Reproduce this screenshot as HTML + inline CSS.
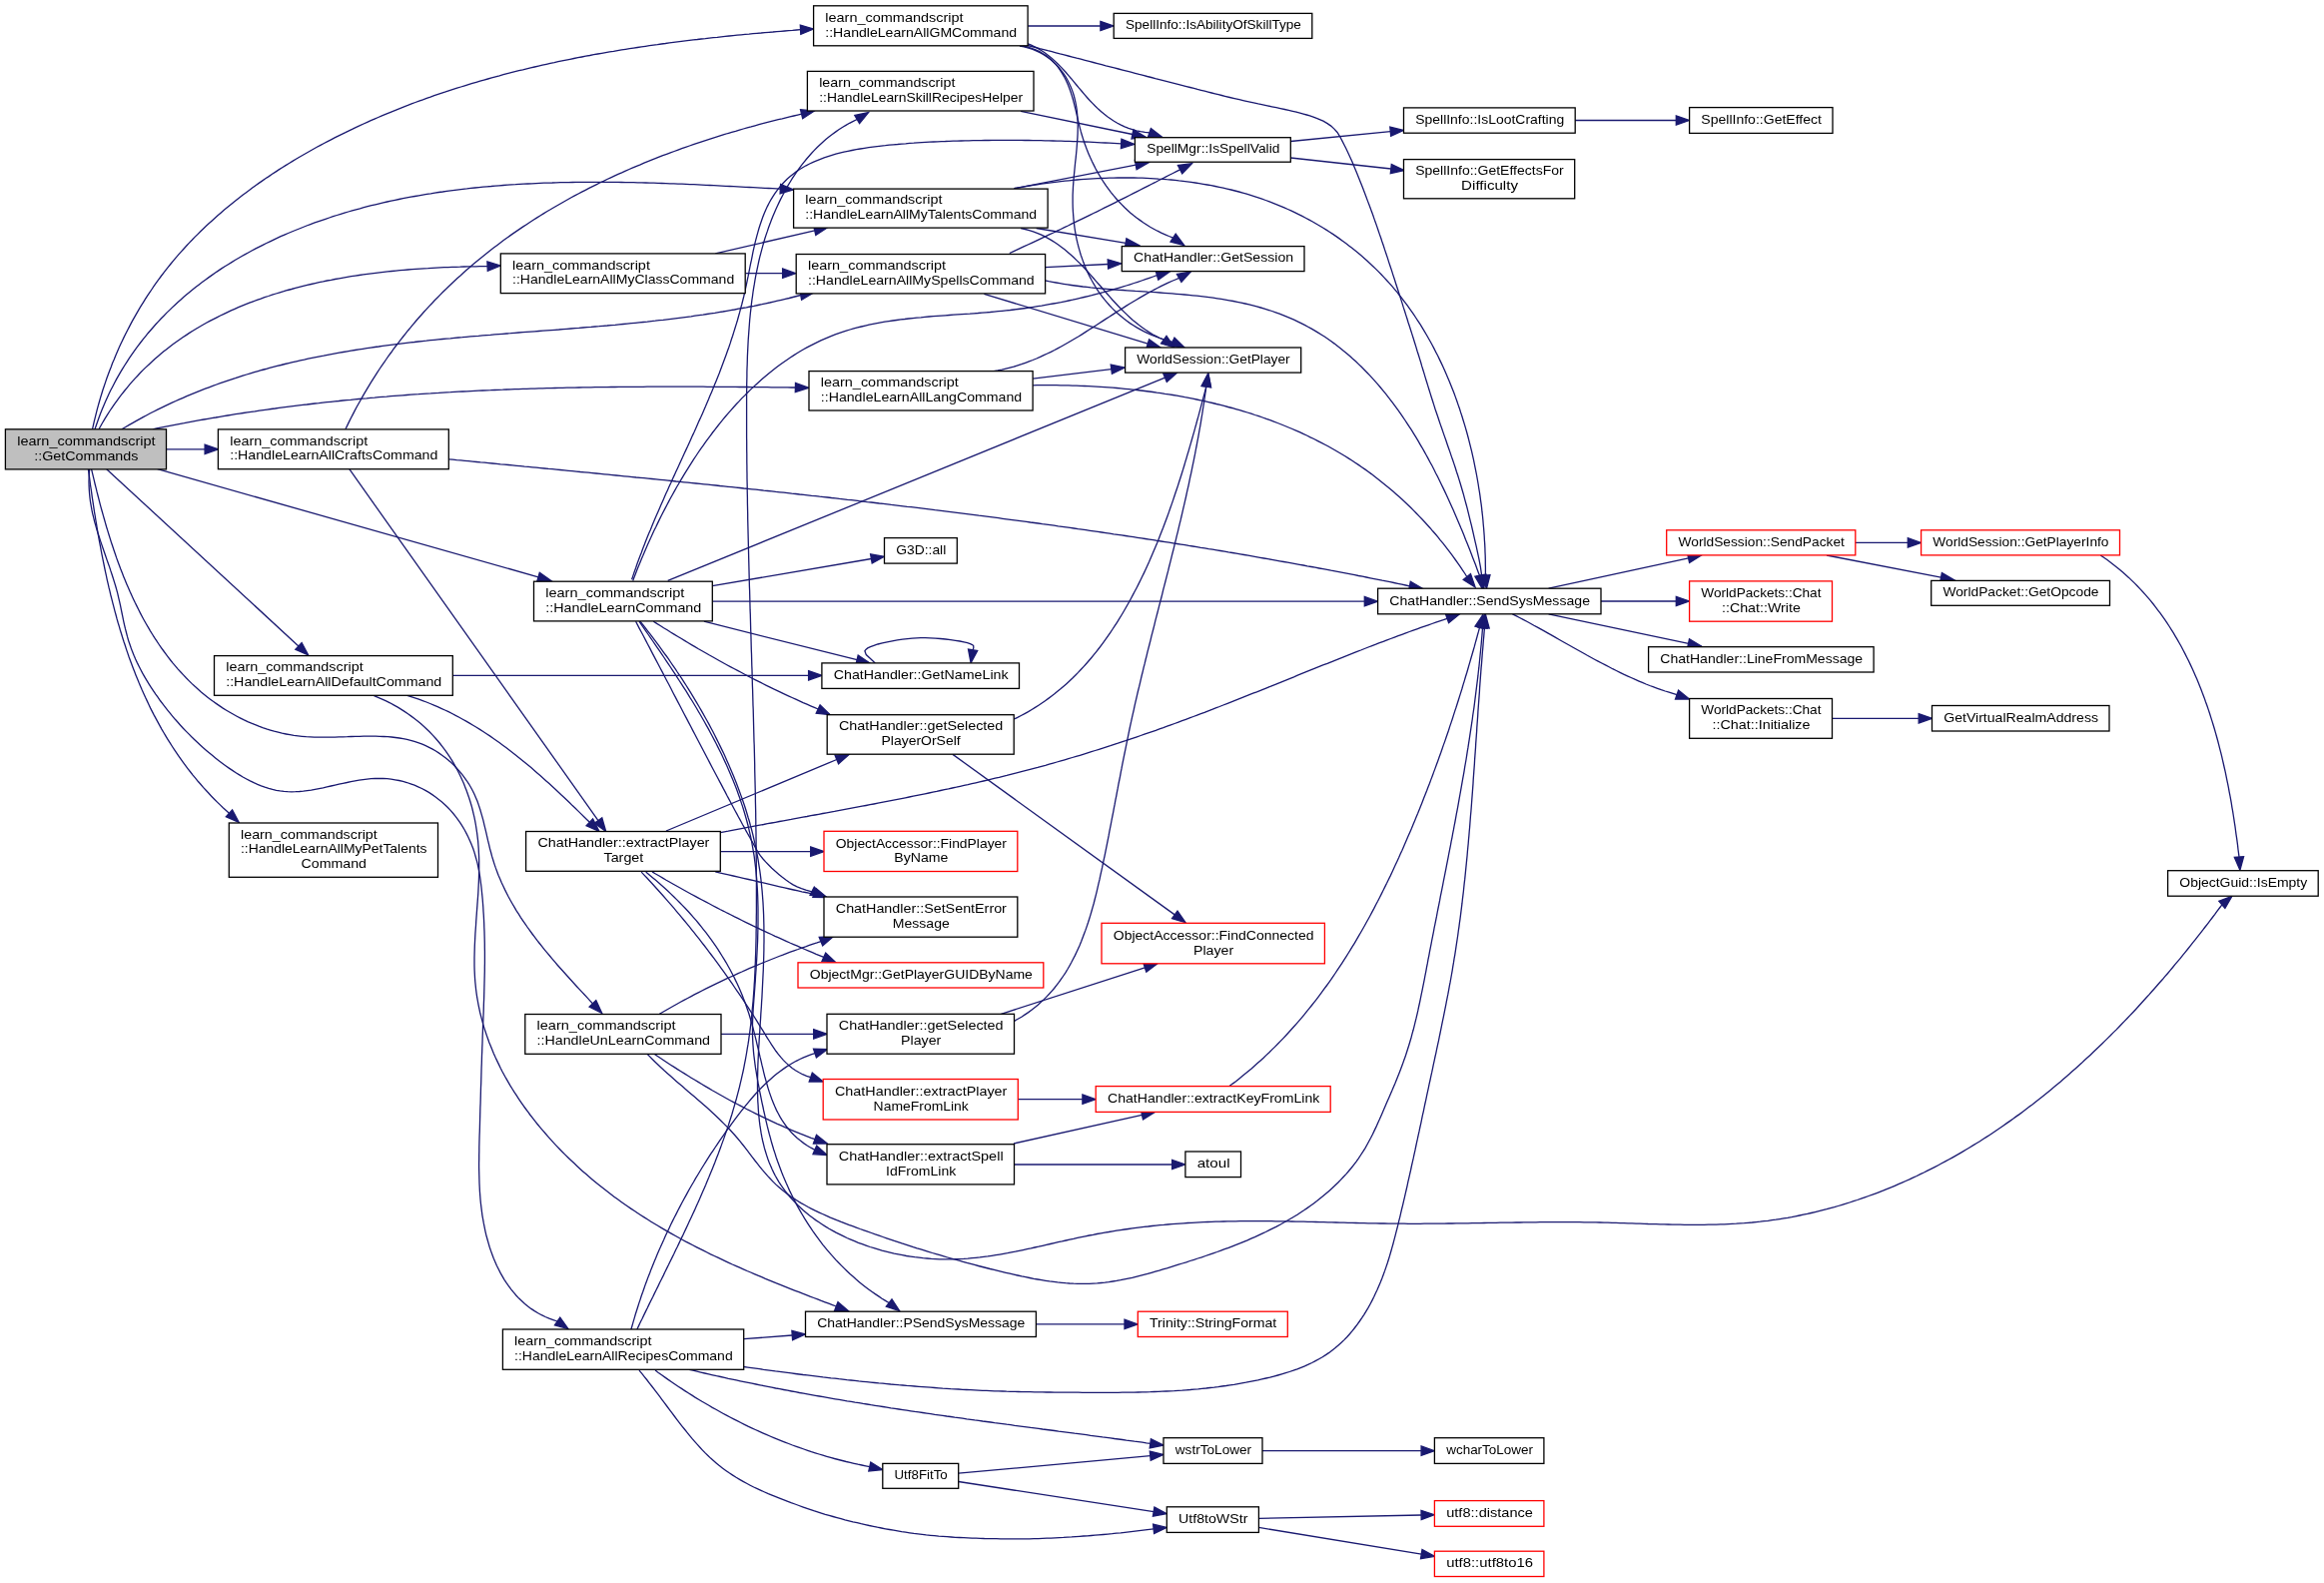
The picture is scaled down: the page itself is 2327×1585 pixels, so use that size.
<!DOCTYPE html><html><head><meta charset="utf-8"><style>html,body{margin:0;padding:0;background:#fff;width:2327px;height:1585px;overflow:hidden}svg{display:block;will-change:transform}text{font-family:"Liberation Sans",sans-serif;font-size:13.3px;fill:#000}</style></head><body>
<svg width="2327" height="1585" viewBox="0 0 2327 1585">
<rect width="2327" height="1585" fill="#fff"/>
<g fill="none" stroke="#191970" stroke-width="1.3">
</g><g fill="#191970" stroke="#191970" stroke-width="1.3">
<path fill="none" d="M92.5,429.8 L93.4,425.8 L94.3,421.8 L95.3,417.8 L96.3,413.8 L97.3,409.9 L98.4,405.9 L99.5,402 L100.6,398.1 L101.8,394.2 L103,390.3 L104.3,386.5 L105.6,382.6 L106.9,378.8 L108.3,375 L109.7,371.2 L111.2,367.4 L112.6,363.6 L114.2,359.9 L115.7,356.2 L117.3,352.5 L118.9,348.8 L120.6,345.1 L122.3,341.5 L124,337.9 L125.8,334.3 L127.6,330.7 L129.5,327.1 L131.3,323.6 L133.2,320.1 L135.2,316.6 L137.2,313.1 L139.2,309.6 L141.3,306.2 L143.4,302.8 L145.5,299.4 L147.6,296.1 L149.8,292.8 L152.1,289.5 L154.3,286.2 L156.6,282.9 L159,279.7 L161.3,276.5 L163.7,273.3 L166.2,270.2 L168.6,267.1 L171.1,264 L173.7,260.9 L176.2,257.9 L178.8,254.9 L181.5,251.9 L184.1,249 L186.8,246 L189.5,243.1 L192.3,240.3 L195,237.4 L197.9,234.6 L200.7,231.8 L203.6,229 L206.4,226.3 L209.4,223.6 L212.3,220.9 L215.3,218.2 L218.3,215.6 L221.3,212.9 L224.3,210.3 L227.4,207.8 L230.5,205.2 L233.6,202.7 L236.7,200.2 L239.9,197.7 L243,195.3 L246.2,192.9 L249.5,190.5 L252.7,188.1 L255.9,185.7 L259.2,183.4 L262.5,181.1 L265.8,178.8 L269.2,176.6 L272.5,174.3 L275.9,172.1 L279.2,169.9 L282.6,167.8 L286,165.6 L289.5,163.5 L292.9,161.4 L296.4,159.3 L299.8,157.3 L303.3,155.3 L306.8,153.2 L310.3,151.3 L313.8,149.3 L317.3,147.3 L320.9,145.4 L324.4,143.5 L328,141.6 L331.5,139.8 L335.1,137.9 L338.7,136.1 L342.3,134.3 L345.9,132.6 L349.5,130.8 L353.1,129.1 L356.7,127.3 L360.4,125.7 L364,124 L367.7,122.3 L371.3,120.7 L375,119.1 L378.7,117.5 L382.4,115.9 L386,114.3 L389.8,112.8 L393.5,111.3 L397.2,109.8 L400.9,108.3 L404.6,106.8 L408.4,105.4 L412.1,103.9 L415.9,102.5 L419.6,101.1 L423.4,99.8 L427.2,98.4 L431,97.1 L434.8,95.7 L438.6,94.4 L442.4,93.1 L446.2,91.9 L450,90.6 L453.8,89.4 L457.6,88.2 L461.5,87 L465.3,85.8 L469.1,84.6 L473,83.4 L476.9,82.3 L480.7,81.2 L484.6,80.1 L488.5,79 L492.3,77.9 L496.2,76.8 L500.1,75.8 L504,74.7 L507.9,73.7 L511.8,72.7 L515.7,71.7 L519.6,70.7 L523.5,69.8 L527.4,68.8 L531.3,67.9 L535.3,67 L539.2,66.1 L543.1,65.2 L547.1,64.3 L551,63.4 L555,62.6 L558.9,61.7 L562.8,60.9 L566.8,60.1 L570.8,59.3 L574.7,58.5 L578.7,57.7 L582.6,57 L586.6,56.2 L590.6,55.5 L594.5,54.7 L598.5,54 L602.5,53.3 L606.5,52.6 L610.4,51.9 L614.4,51.3 L618.4,50.6 L622.4,49.9 L626.4,49.3 L630.4,48.7 L634.3,48.1 L638.3,47.5 L642.3,46.9 L646.3,46.3 L650.3,45.7 L654.3,45.1 L658.3,44.6 L662.3,44 L666.3,43.5 L670.3,42.9 L674.3,42.4 L678.3,41.9 L682.3,41.4 L686.2,40.9 L690.2,40.4 L694.2,39.9 L698.2,39.5 L702.2,39 L706.2,38.6 L710.2,38.1 L714.2,37.7 L718.2,37.3 L722.2,36.8 L726.2,36.4 L730.1,36 L734.1,35.6 L738.1,35.2 L742.1,34.8 L746.1,34.4 L750,34.1 L754,33.7 L758,33.3 L762,33 L765.9,32.6 L769.9,32.3 L773.9,32 L777.8,31.6 L781.8,31.3 L785.7,31 L789.7,30.7 L793.6,30.4 L797.6,30 L801.5,29.7"/>
<polygon points="814.8,29 801.8,34.4 801.3,25.1"/>
<path fill="none" d="M95,429.8 L96.4,425.7 L97.8,421.7 L99.2,417.7 L100.7,413.7 L102.3,409.8 L103.9,405.9 L105.6,402.1 L107.3,398.3 L109,394.6 L110.8,390.8 L112.7,387.2 L114.6,383.5 L116.5,379.9 L118.5,376.4 L120.5,372.9 L122.6,369.4 L124.7,366 L126.9,362.6 L129.1,359.2 L131.3,355.9 L133.6,352.6 L135.9,349.4 L138.3,346.2 L140.7,343 L143.1,339.9 L145.6,336.8 L148.1,333.7 L150.7,330.7 L153.3,327.7 L155.9,324.8 L158.6,321.9 L161.2,319 L164,316.2 L166.7,313.4 L169.6,310.6 L172.4,307.9 L175.3,305.2 L178.2,302.5 L181.1,299.9 L184,297.3 L187,294.8 L190.1,292.2 L193.1,289.8 L196.2,287.3 L199.3,284.9 L202.4,282.5 L205.6,280.2 L208.8,277.9 L212,275.6 L215.3,273.3 L218.5,271.1 L221.8,268.9 L225.1,266.8 L228.5,264.7 L231.9,262.6 L235.2,260.5 L238.7,258.5 L242.1,256.5 L245.5,254.6 L249,252.7 L252.5,250.8 L256,248.9 L259.6,247.1 L263.1,245.3 L266.7,243.5 L270.3,241.8 L273.9,240.1 L277.5,238.4 L281.1,236.7 L284.8,235.1 L288.5,233.5 L292.1,232 L295.8,230.5 L299.6,229 L303.3,227.5 L307,226 L310.8,224.6 L314.5,223.2 L318.3,221.9 L322.1,220.6 L325.9,219.3 L329.7,218 L333.5,216.7 L337.3,215.5 L341.1,214.3 L344.9,213.2 L348.8,212 L352.6,210.9 L356.5,209.8 L360.4,208.8 L364.3,207.7 L368.1,206.7 L372,205.7 L375.9,204.8 L379.9,203.8 L383.8,202.9 L387.7,202 L391.6,201.2 L395.6,200.3 L399.5,199.5 L403.5,198.7 L407.4,197.9 L411.4,197.2 L415.4,196.5 L419.3,195.8 L423.3,195.1 L427.3,194.4 L431.3,193.8 L435.3,193.1 L439.3,192.5 L443.3,192 L447.3,191.4 L451.3,190.9 L455.4,190.3 L459.4,189.8 L463.4,189.3 L467.5,188.9 L471.5,188.4 L475.6,188 L479.6,187.6 L483.6,187.2 L487.7,186.8 L491.8,186.5 L495.8,186.1 L499.9,185.8 L503.9,185.5 L508,185.2 L512.1,184.9 L516.2,184.7 L520.2,184.4 L524.3,184.2 L528.4,184 L532.5,183.8 L536.5,183.6 L540.6,183.4 L544.7,183.2 L548.8,183.1 L552.9,183 L556.9,182.8 L561,182.7 L565.1,182.6 L569.2,182.6 L573.3,182.5 L577.4,182.4 L581.4,182.4 L585.5,182.3 L589.6,182.3 L593.7,182.3 L597.8,182.3 L601.8,182.3 L605.9,182.3 L610,182.4 L614.1,182.4 L618.1,182.4 L622.2,182.5 L626.3,182.6 L630.3,182.6 L634.4,182.7 L638.5,182.8 L642.5,182.9 L646.6,183 L650.6,183.1 L654.7,183.2 L658.7,183.4 L662.7,183.5 L666.8,183.6 L670.8,183.8 L674.8,183.9 L678.8,184.1 L682.9,184.2 L686.9,184.4 L690.9,184.6 L694.9,184.7 L698.9,184.9 L702.9,185.1 L706.9,185.3 L710.8,185.5 L714.8,185.7 L718.8,185.9 L722.7,186.1 L726.7,186.3 L730.6,186.5 L734.6,186.7 L738.5,186.9 L742.5,187.1 L746.4,187.3 L750.3,187.5 L754.2,187.7 L758.1,187.9 L762,188.1 L765.9,188.3 L769.7,188.5 L773.6,188.7 L777.5,188.9 L781.3,189.1"/>
<polygon points="794.6,189.9 781.1,193.8 781.6,184.5"/>
<path fill="none" d="M99,429.8 L101.1,426 L103.2,422.3 L105.4,418.7 L107.6,415.1 L109.9,411.5 L112.2,408.1 L114.6,404.6 L117,401.3 L119.5,397.9 L122,394.7 L124.5,391.5 L127.1,388.3 L129.7,385.2 L132.3,382.1 L135,379.1 L137.8,376.2 L140.5,373.3 L143.3,370.4 L146.2,367.6 L149.1,364.9 L152,362.2 L154.9,359.5 L157.9,356.9 L161,354.3 L164,351.8 L167.1,349.4 L170.2,347 L173.4,344.6 L176.6,342.3 L179.8,340 L183,337.7 L186.3,335.6 L189.6,333.4 L193,331.3 L196.3,329.2 L199.7,327.2 L203.1,325.3 L206.6,323.3 L210.1,321.4 L213.6,319.6 L217.1,317.8 L220.6,316 L224.2,314.3 L227.8,312.6 L231.4,310.9 L235,309.3 L238.7,307.7 L242.4,306.2 L246.1,304.7 L249.8,303.2 L253.5,301.8 L257.3,300.4 L261.1,299.1 L264.9,297.7 L268.7,296.5 L272.5,295.2 L276.3,294 L280.2,292.8 L284.1,291.7 L288,290.5 L291.9,289.5 L295.8,288.4 L299.7,287.4 L303.6,286.4 L307.6,285.4 L311.6,284.5 L315.5,283.6 L319.5,282.7 L323.5,281.9 L327.5,281 L331.5,280.3 L335.5,279.5 L339.5,278.8 L343.6,278.1 L347.6,277.4 L351.6,276.7 L355.7,276.1 L359.7,275.5 L363.8,274.9 L367.8,274.3 L371.9,273.8 L376,273.3 L380,272.8 L384.1,272.3 L388.1,271.9 L392.2,271.5 L396.3,271.1 L400.3,270.7 L404.4,270.3 L408.4,270 L412.5,269.7 L416.5,269.4 L420.6,269.1 L424.6,268.8 L428.6,268.6 L432.7,268.3 L436.7,268.1 L440.7,267.9 L444.7,267.7 L448.7,267.6 L452.7,267.4 L456.7,267.3 L460.6,267.2 L464.6,267 L468.6,266.9 L472.5,266.9 L476.4,266.8 L480.3,266.7 L484.2,266.7 L488.1,266.7"/>
<polygon points="501.4,266 488.3,271.3 487.9,262"/>
<path fill="none" d="M121.9,429.8 L125.4,427.7 L129,425.6 L132.6,423.6 L136.1,421.6 L139.7,419.6 L143.3,417.6 L146.9,415.7 L150.5,413.8 L154.1,412 L157.7,410.2 L161.4,408.4 L165,406.6 L168.7,404.9 L172.3,403.2 L176,401.5 L179.6,399.9 L183.3,398.3 L187,396.7 L190.7,395.1 L194.4,393.6 L198.1,392.1 L201.8,390.6 L205.5,389.2 L209.3,387.8 L213,386.4 L216.8,385 L220.5,383.7 L224.3,382.4 L228,381.1 L231.8,379.8 L235.6,378.6 L239.4,377.3 L243.1,376.2 L246.9,375 L250.7,373.8 L254.6,372.7 L258.4,371.6 L262.2,370.5 L266,369.5 L269.8,368.4 L273.7,367.4 L277.5,366.4 L281.4,365.5 L285.2,364.5 L289.1,363.6 L293,362.7 L296.8,361.8 L300.7,360.9 L304.6,360.1 L308.5,359.2 L312.4,358.4 L316.3,357.6 L320.2,356.8 L324.1,356.1 L328,355.3 L331.9,354.6 L335.8,353.9 L339.7,353.2 L343.6,352.5 L347.6,351.8 L351.5,351.2 L355.5,350.5 L359.4,349.9 L363.3,349.3 L367.3,348.7 L371.2,348.1 L375.2,347.5 L379.2,347 L383.1,346.4 L387.1,345.9 L391.1,345.4 L395,344.9 L399,344.4 L403,343.9 L407,343.4 L411,342.9 L414.9,342.5 L418.9,342 L422.9,341.6 L426.9,341.2 L430.9,340.7 L434.9,340.3 L438.9,339.9 L442.9,339.5 L446.9,339.1 L451,338.8 L455,338.4 L459,338 L463,337.7 L467,337.3 L471,336.9 L475,336.6 L479.1,336.3 L483.1,335.9 L487.1,335.6 L491.1,335.3 L495.2,334.9 L499.2,334.6 L503.2,334.3 L507.2,334 L511.3,333.7 L515.3,333.3 L519.3,333 L523.4,332.7 L527.4,332.4 L531.4,332.1 L535.4,331.8 L539.5,331.5 L543.5,331.2 L547.5,330.9 L551.6,330.6 L555.6,330.3 L559.6,330 L563.7,329.6 L567.7,329.3 L571.7,329 L575.8,328.7 L579.8,328.4 L583.8,328 L587.8,327.7 L591.9,327.4 L595.9,327 L599.9,326.7 L603.9,326.3 L608,326 L612,325.6 L616,325.3 L620,324.9 L624,324.5 L628,324.1 L632.1,323.7 L636.1,323.3 L640.1,322.9 L644.1,322.5 L648.1,322.1 L652.1,321.6 L656.1,321.2 L660.1,320.7 L664.1,320.3 L668.1,319.8 L672.1,319.3 L676.1,318.8 L680,318.3 L684,317.8 L688,317.3 L692,316.8 L695.9,316.2 L699.9,315.6 L703.9,315.1 L707.8,314.5 L711.8,313.9 L715.8,313.3 L719.7,312.6 L723.7,312 L727.6,311.3 L731.5,310.6 L735.5,310 L739.4,309.2 L743.3,308.5 L747.3,307.8 L751.2,307 L755.1,306.3 L759,305.5 L762.9,304.7 L766.8,303.8 L770.7,303 L774.6,302.1 L778.5,301.2 L782.4,300.3 L786.3,299.4 L790.2,298.5 L794,297.5 L797.9,296.5 L801.7,295.5"/>
<polygon points="814.8,293 802.6,300.1 800.9,291"/>
<path fill="none" d="M152.9,429.8 L156.8,429 L160.8,428.2 L164.7,427.4 L168.6,426.6 L172.6,425.8 L176.5,425.1 L180.5,424.3 L184.4,423.6 L188.3,422.8 L192.3,422.1 L196.2,421.4 L200.2,420.7 L204.1,420 L208.1,419.3 L212,418.6 L216,418 L220,417.3 L223.9,416.6 L227.9,416 L231.8,415.4 L235.8,414.7 L239.8,414.1 L243.7,413.5 L247.7,412.9 L251.6,412.3 L255.6,411.8 L259.6,411.2 L263.6,410.6 L267.5,410.1 L271.5,409.5 L275.5,409 L279.4,408.4 L283.4,407.9 L287.4,407.4 L291.4,406.9 L295.4,406.4 L299.3,405.9 L303.3,405.4 L307.3,405 L311.3,404.5 L315.3,404 L319.2,403.6 L323.2,403.1 L327.2,402.7 L331.2,402.3 L335.2,401.9 L339.2,401.5 L343.2,401 L347.2,400.6 L351.2,400.3 L355.2,399.9 L359.1,399.5 L363.1,399.1 L367.1,398.8 L371.1,398.4 L375.1,398.1 L379.1,397.7 L383.1,397.4 L387.1,397.1 L391.1,396.7 L395.1,396.4 L399.1,396.1 L403.1,395.8 L407.1,395.5 L411.1,395.2 L415.1,394.9 L419.1,394.7 L423.2,394.4 L427.2,394.1 L431.2,393.9 L435.2,393.6 L439.2,393.4 L443.2,393.1 L447.2,392.9 L451.2,392.7 L455.2,392.4 L459.2,392.2 L463.2,392 L467.3,391.8 L471.3,391.6 L475.3,391.4 L479.3,391.2 L483.3,391 L487.3,390.8 L491.3,390.7 L495.3,390.5 L499.4,390.3 L503.4,390.2 L507.4,390 L511.4,389.9 L515.4,389.7 L519.4,389.6 L523.5,389.4 L527.5,389.3 L531.5,389.2 L535.5,389.1 L539.5,388.9 L543.5,388.8 L547.6,388.7 L551.6,388.6 L555.6,388.5 L559.6,388.4 L563.6,388.3 L567.7,388.2 L571.7,388.2 L575.7,388.1 L579.7,388 L583.7,387.9 L587.7,387.9 L591.8,387.8 L595.8,387.7 L599.8,387.7 L603.8,387.6 L607.8,387.6 L611.9,387.5 L615.9,387.5 L619.9,387.4 L623.9,387.4 L627.9,387.4 L631.9,387.3 L636,387.3 L640,387.3 L644,387.3 L648,387.2 L652,387.2 L656.1,387.2 L660.1,387.2 L664.1,387.2 L668.1,387.2 L672.1,387.2 L676.1,387.2 L680.2,387.2 L684.2,387.2 L688.2,387.2 L692.2,387.2 L696.2,387.2 L700.2,387.2 L704.2,387.2 L708.2,387.3 L712.3,387.3 L716.3,387.3 L720.3,387.3 L724.3,387.3 L728.3,387.4 L732.3,387.4 L736.3,387.4 L740.3,387.5 L744.3,387.5 L748.4,387.5 L752.4,387.6 L756.4,387.6 L760.4,387.6 L764.4,387.7 L768.4,387.7 L772.4,387.8 L776.4,387.8 L780.4,387.8 L784.4,387.9 L788.4,387.9 L792.4,388 L796.4,388"/>
<polygon points="809.7,388.3 796.3,392.7 796.5,383.4"/>
<path fill="none" d="M166.5,449.8 L205.1,449.8"/>
<polygon points="218.4,449.8 205.1,454.5 205.1,445.1"/>
<path fill="none" d="M157.7,469.7 L539,577.8"/>
<polygon points="551.8,581.4 537.7,582.3 540.3,573.3"/>
<path fill="none" d="M106.7,469.7 L298.9,646.9"/>
<polygon points="308.7,655.9 295.8,650.3 302.1,643.5"/>
<path fill="none" d="M88.4,469.8 L88.9,473.7 L89.5,477.6 L90,481.5 L90.5,485.5 L91.1,489.4 L91.7,493.3 L92.2,497.3 L92.8,501.2 L93.4,505.2 L94,509.1 L94.6,513.1 L95.3,517 L95.9,521 L96.6,524.9 L97.2,528.9 L97.9,532.9 L98.6,536.8 L99.3,540.8 L100,544.7 L100.8,548.7 L101.5,552.7 L102.3,556.6 L103.1,560.6 L103.9,564.5 L104.7,568.5 L105.5,572.4 L106.4,576.4 L107.2,580.3 L108.1,584.2 L109,588.2 L110,592.1 L110.9,596 L111.9,599.9 L112.9,603.8 L113.9,607.7 L114.9,611.6 L116,615.5 L117,619.4 L118.1,623.3 L119.3,627.1 L120.4,631 L121.6,634.8 L122.8,638.7 L124,642.5 L125.3,646.3 L126.5,650.1 L127.8,653.9 L129.1,657.7 L130.5,661.4 L131.9,665.2 L133.3,668.9 L134.7,672.6 L136.2,676.4 L137.7,680 L139.2,683.7 L140.8,687.4 L142.3,691 L144,694.7 L145.6,698.3 L147.3,701.9 L149,705.5 L150.7,709.1 L152.5,712.6 L154.3,716.1 L156.2,719.6 L158.1,723.1 L160,726.6 L161.9,730.1 L163.9,733.5 L165.9,736.9 L168,740.3 L170.1,743.7 L172.2,747 L174.4,750.3 L176.6,753.6 L178.8,756.9 L181.1,760.2 L183.4,763.4 L185.8,766.6 L188.2,769.8 L190.7,773 L193.1,776.1 L195.7,779.2 L198.2,782.3 L200.9,785.3 L203.5,788.4 L206.2,791.3 L209,794.3 L211.7,797.3 L214.6,800.2 L217.5,803.1 L220.4,805.9 L223.3,808.7 L226.4,811.5 L229.4,814.3"/>
<polygon points="239.2,823.3 226.3,817.7 232.6,810.9"/>
<path fill="none" d="M91.6,469.8 L92.5,473.6 L93.4,477.4 L94.3,481.2 L95.2,485 L96.2,488.9 L97.1,492.7 L98.1,496.5 L99.1,500.4 L100.1,504.3 L101.1,508.1 L102.2,512 L103.3,515.9 L104.4,519.7 L105.5,523.6 L106.6,527.5 L107.8,531.4 L109,535.2 L110.2,539.1 L111.4,543 L112.7,546.8 L114,550.7 L115.3,554.5 L116.6,558.4 L118,562.2 L119.4,566 L120.8,569.8 L122.3,573.6 L123.8,577.4 L125.3,581.1 L126.9,584.9 L128.5,588.6 L130.1,592.3 L131.8,596 L133.5,599.7 L135.2,603.3 L137,606.9 L138.8,610.5 L140.6,614.1 L142.5,617.7 L144.4,621.2 L146.4,624.7 L148.4,628.1 L150.4,631.6 L152.5,635 L154.6,638.4 L156.8,641.7 L159,645 L161.3,648.3 L163.6,651.5 L165.9,654.7 L168.3,657.9 L170.7,661 L173.2,664.1 L175.8,667.1 L178.3,670.1 L181,673 L183.7,675.9 L186.4,678.8 L189.2,681.6 L192,684.4 L194.9,687.1 L197.9,689.7 L200.9,692.4 L203.9,694.9 L207,697.4 L210.2,699.9 L213.4,702.3 L216.7,704.6 L220,706.9 L223.3,709.1 L226.7,711.2 L230.2,713.3 L233.7,715.3 L237.2,717.2 L240.8,719.1 L244.4,720.9 L248,722.6 L251.7,724.2 L255.5,725.7 L259.2,727.2 L263,728.6 L266.8,729.9 L270.7,731.1 L274.5,732.2 L278.5,733.2 L282.4,734.2 L286.4,735 L290.3,735.7 L294.3,736.4 L298.4,736.9 L302.4,737.3 L306.5,737.7 L310.6,737.9 L314.7,738.1 L318.8,738.2 L322.9,738.2 L327,738.2 L331.2,738.2 L335.3,738.1 L339.4,737.9 L343.5,737.8 L347.7,737.7 L351.8,737.5 L355.9,737.4 L360,737.3 L364.1,737.2 L368.1,737.1 L372.2,737.1 L376.2,737.2 L380.2,737.3 L384.2,737.5 L388.2,737.7 L392.1,738 L396,738.5 L399.9,739 L403.7,739.7 L407.5,740.4 L411.2,741.3 L414.9,742.4 L418.6,743.6 L422.2,744.9 L425.7,746.4 L429.2,748.1 L432.7,749.9 L436,751.8 L439.3,753.9 L442.6,756.2 L445.7,758.5 L448.8,761 L451.7,763.6 L454.6,766.3 L457.3,769.2 L460,772.1 L462.5,775.1 L464.9,778.3 L467.2,781.5 L469.4,784.8 L471.4,788.3 L473.3,791.7 L475,795.3 L476.6,798.9 L478.1,802.6 L479.4,806.4 L480.7,810.2 L481.8,814.1 L482.9,817.9 L484,821.9 L484.9,825.8 L485.9,829.8 L486.8,833.7 L487.7,837.7 L488.6,841.7 L489.6,845.6 L490.5,849.6 L491.6,853.5 L492.6,857.4 L493.8,861.3 L495,865.1 L496.3,868.9 L497.7,872.7 L499.1,876.4 L500.7,880.1 L502.2,883.7 L503.9,887.3 L505.6,890.9 L507.4,894.5 L509.2,898 L511.1,901.5 L513.1,905 L515.1,908.4 L517.1,911.8 L519.3,915.2 L521.4,918.6 L523.6,921.9 L525.9,925.2 L528.2,928.5 L530.5,931.7 L532.9,935 L535.3,938.2 L537.7,941.4 L540.2,944.5 L542.7,947.7 L545.2,950.8 L547.8,953.9 L550.4,957 L553,960.1 L555.6,963.2 L558.2,966.2 L560.9,969.3 L563.6,972.3 L566.3,975.3 L569,978.3 L571.7,981.3 L574.4,984.2 L577.1,987.2 L579.8,990.1 L582.6,993.1 L585.3,996 L588,998.9 L590.7,1001.9 L593.4,1004.8"/>
<polygon points="602.7,1014.3 590.1,1008 596.8,1001.5"/>
<path fill="none" d="M89.7,469.8 L89.3,474 L89.1,478.2 L89,482.3 L89.1,486.4 L89.3,490.5 L89.6,494.5 L90,498.5 L90.5,502.5 L91.2,506.4 L91.9,510.4 L92.7,514.3 L93.7,518.2 L94.6,522 L95.7,525.9 L96.8,529.7 L97.9,533.5 L99.2,537.3 L100.4,541.1 L101.7,544.9 L103,548.7 L104.3,552.5 L105.6,556.3 L106.9,560.1 L108.2,563.8 L109.6,567.6 L110.8,571.4 L112.1,575.2 L113.3,579 L114.5,582.9 L115.7,586.7 L116.8,590.6 L117.8,594.4 L118.7,598.3 L119.6,602.2 L120.5,606.1 L121.3,610.1 L122.1,614 L122.9,617.9 L123.7,621.8 L124.6,625.8 L125.5,629.7 L126.5,633.5 L127.5,637.4 L128.6,641.2 L129.9,645 L131.2,648.8 L132.6,652.6 L134.1,656.3 L135.7,660 L137.4,663.6 L139.2,667.2 L141,670.8 L142.9,674.4 L144.9,677.9 L147,681.4 L149.1,684.8 L151.2,688.2 L153.5,691.6 L155.7,694.9 L158.1,698.2 L160.4,701.5 L162.8,704.7 L165.3,707.9 L167.8,711.1 L170.3,714.2 L172.9,717.3 L175.4,720.3 L178.1,723.3 L180.7,726.3 L183.4,729.2 L186.2,732.1 L189,734.9 L191.8,737.8 L194.6,740.5 L197.6,743.3 L200.5,746 L203.5,748.7 L206.6,751.4 L209.7,754 L212.8,756.6 L216,759.2 L219.2,761.7 L222.5,764.2 L225.9,766.7 L229.3,769.1 L232.7,771.4 L236.2,773.7 L239.7,775.9 L243.2,778 L246.8,780 L250.4,781.9 L254.1,783.7 L257.8,785.3 L261.5,786.8 L265.2,788.2 L269,789.4 L272.8,790.4 L276.6,791.3 L280.4,791.9 L284.3,792.4 L288.1,792.7 L292,792.8 L295.9,792.7 L299.8,792.5 L303.7,792.1 L307.7,791.6 L311.6,791.1 L315.5,790.4 L319.5,789.6 L323.5,788.8 L327.4,787.9 L331.4,787 L335.4,786.1 L339.4,785.2 L343.4,784.3 L347.4,783.5 L351.4,782.6 L355.5,781.9 L359.5,781.2 L363.5,780.6 L367.5,780.1 L371.6,779.7 L375.6,779.5 L379.6,779.4 L383.6,779.5 L387.6,779.7 L391.6,780.2 L395.6,780.8 L399.6,781.5 L403.5,782.4 L407.4,783.5 L411.2,784.8 L415,786.2 L418.7,787.8 L422.4,789.5 L425.9,791.4 L429.4,793.4 L432.8,795.6 L436.1,797.9 L439.3,800.4 L442.5,803 L445.5,805.7 L448.4,808.5 L451.1,811.4 L453.8,814.5 L456.3,817.6 L458.7,820.8 L461,824.2 L463.2,827.6 L465.2,831 L467.1,834.6 L468.9,838.2 L470.6,841.9 L472.1,845.6 L473.6,849.3 L474.9,853.1 L476,857 L477.1,860.8 L478.1,864.7 L478.9,868.7 L479.7,872.6 L480.4,876.5 L481,880.5 L481.5,884.5 L482,888.5 L482.4,892.5 L482.8,896.5 L483.2,900.5 L483.5,904.5 L483.8,908.5 L484,912.5 L484.3,916.5 L484.5,920.5 L484.7,924.5 L484.8,928.5 L485,932.5 L485.1,936.5 L485.2,940.5 L485.3,944.5 L485.3,948.5 L485.4,952.5 L485.4,956.5 L485.4,960.5 L485.4,964.5 L485.3,968.5 L485.3,972.5 L485.2,976.5 L485.1,980.5 L485,984.5 L484.9,988.5 L484.8,992.5 L484.7,996.5 L484.6,1000.5 L484.4,1004.6 L484.3,1008.6 L484.2,1012.6 L484,1016.6 L483.9,1020.6 L483.7,1024.6 L483.5,1028.6 L483.4,1032.6 L483.2,1036.6 L483.1,1040.6 L483,1044.6 L482.8,1048.6 L482.7,1052.6 L482.5,1056.6 L482.4,1060.6 L482.3,1064.6 L482.1,1068.6 L482,1072.6 L481.9,1076.6 L481.8,1080.6 L481.7,1084.6 L481.5,1088.6 L481.4,1092.6 L481.3,1096.6 L481.2,1100.6 L481.1,1104.6 L480.9,1108.6 L480.8,1112.6 L480.7,1116.6 L480.6,1120.6 L480.5,1124.6 L480.4,1128.6 L480.3,1132.6 L480.1,1136.7 L480,1140.7 L479.9,1144.7 L479.8,1148.7 L479.8,1152.7 L479.7,1156.7 L479.7,1160.8 L479.6,1164.8 L479.6,1168.8 L479.7,1172.8 L479.8,1176.8 L479.9,1180.8 L480,1184.8 L480.2,1188.8 L480.4,1192.8 L480.7,1196.8 L481,1200.8 L481.4,1204.8 L481.9,1208.8 L482.4,1212.8 L482.9,1216.8 L483.6,1220.7 L484.3,1224.7 L485.1,1228.7 L485.9,1232.6 L486.8,1236.5 L487.9,1240.5 L489,1244.4 L490.1,1248.3 L491.4,1252.1 L492.8,1256 L494.2,1259.8 L495.8,1263.5 L497.4,1267.2 L499.2,1270.8 L501,1274.4 L503,1277.9 L505,1281.3 L507.2,1284.7 L509.5,1287.9 L511.9,1291.1 L514.4,1294.2 L517,1297.2 L519.7,1300.1 L522.6,1302.8 L525.5,1305.5 L528.6,1308 L531.8,1310.4 L535.2,1312.6 L538.7,1314.7 L542.3,1316.7 L546,1318.5 L549.9,1320.2 L553.9,1321.6 L558.1,1323"/>
<polygon points="569,1330.6 555.4,1326.8 560.8,1319.1"/>
<path fill="none" d="M1029.1,26 L1101.9,26"/>
<polygon points="1115.2,26 1101.9,30.7 1101.9,21.3"/>
<path fill="none" d="M1029,45.5 L1033,46.5 L1037,47.5 L1041,48.6 L1045,49.6 L1049.1,50.7 L1053.2,51.7 L1057.3,52.8 L1061.4,53.9 L1065.5,54.9 L1069.7,56 L1073.8,57.1 L1078,58.2 L1082.2,59.2 L1086.4,60.3 L1090.6,61.4 L1094.8,62.5 L1098.9,63.6 L1103.1,64.7 L1107.3,65.8 L1111.5,66.8 L1115.7,67.9 L1119.9,69 L1124,70.1 L1128.2,71.2 L1132.3,72.2 L1136.5,73.3 L1140.6,74.4 L1144.7,75.4 L1148.7,76.5 L1152.8,77.5 L1156.8,78.6 L1160.8,79.6 L1164.8,80.6 L1168.7,81.6 L1172.6,82.6 L1176.5,83.6 L1180.4,84.6 L1184.2,85.6 L1188,86.6 L1191.7,87.5 L1195.4,88.4 L1199,89.4 L1202.6,90.3 L1206.2,91.2 L1209.7,92.1 L1213.2,93 L1216.6,93.8 L1220,94.7 L1223.3,95.5 L1226.5,96.3 L1231.3,97.5 L1236.1,98.6 L1240.9,99.7 L1245.7,100.8 L1250.4,101.8 L1255.2,102.9 L1259.8,103.9 L1264.5,104.8 L1269,105.8 L1273.5,106.8 L1277.9,107.7 L1282.1,108.6 L1286.3,109.5 L1290.3,110.4 L1294.3,111.3 L1298,112.2 L1301.6,113.1 L1305.1,114.1 L1308.4,115 L1311.5,115.9 L1314.3,116.9 L1317,117.8 L1319.5,118.8 L1324.9,121.2 L1329.1,123.6 L1332.7,126.1 L1336,129.1 L1339,132.5 L1341.4,136.3 L1343.7,140.6 L1346.3,145.7 L1347.6,148.3 L1349,151.2 L1350.4,154.2 L1351.9,157.4 L1353.4,160.8 L1354.9,164.3 L1356.4,168 L1358,171.8 L1359.6,175.7 L1361.2,179.7 L1362.8,183.8 L1364.5,188 L1366.1,192.3 L1367.8,196.7 L1369.4,201.1 L1371.1,205.5 L1372.3,208.7 L1373.5,212.1 L1374.8,215.5 L1376,219.1 L1377.3,222.7 L1378.6,226.4 L1379.9,230.2 L1381.2,234.1 L1382.6,238 L1383.9,242 L1385.3,246 L1386.6,250.1 L1388,254.3 L1389.4,258.4 L1390.7,262.6 L1392.1,266.8 L1393.5,270.9 L1394.8,275.1 L1396.2,279.3 L1397.5,283.5 L1398.9,287.7 L1400.2,291.8 L1401.5,295.9 L1402.8,299.9 L1404.1,303.9 L1405.3,307.9 L1406.6,311.8 L1407.8,315.6 L1409,319.3 L1410.1,323 L1411.3,326.5 L1412.4,330 L1413.8,334.4 L1415.2,338.7 L1416.5,343 L1417.8,347.1 L1419,351.2 L1420.3,355.2 L1421.5,359.1 L1422.7,363 L1423.8,366.9 L1425,370.8 L1426.2,374.6 L1427.3,378.4 L1428.5,382.3 L1429.7,386.1 L1430.9,390 L1432.1,393.9 L1433.3,397.8 L1434.6,401.8 L1435.9,405.9 L1437.1,409.7 L1438.4,413.5 L1439.7,417.3 L1441,421.2 L1442.3,425.1 L1443.7,429 L1445,432.9 L1446.4,436.9 L1447.8,440.8 L1449.1,444.7 L1450.5,448.7 L1451.9,452.6 L1453.2,456.6 L1454.6,460.5 L1455.9,464.4 L1457.2,468.3 L1458.4,472.2 L1459.7,476 L1460.9,479.9 L1462.1,483.7 L1463.2,487.5 L1464.3,491.2 L1465.5,495.4 L1466.6,499.6 L1467.8,504 L1469,508.4 L1470.1,512.9 L1471.2,517.3 L1472.3,521.8 L1473.4,526.2 L1474.4,530.5 L1475.4,534.8 L1476.3,538.9 L1477.2,542.9 L1478.1,546.7 L1478.9,550.3 L1479.6,553.7 L1480.3,556.8 L1480.9,559.7 L1481.4,562.3 L1482.4,567.7 L1483,571.9 L1483.6,576.2"/>
<polygon points="1485.7,589.3 1479,576.9 1488.2,575.4"/>
<path fill="none" d="M1028.7,43.7 L1032.6,45.2 L1036.4,47 L1039.9,48.9 L1043.4,51 L1046.7,53.3 L1049.9,55.7 L1053,58.2 L1056,60.9 L1058.9,63.7 L1061.8,66.6 L1064.5,69.5 L1067.3,72.5 L1069.9,75.6 L1072.6,78.7 L1075.2,81.9 L1077.8,85 L1080.4,88.2 L1083.1,91.3 L1085.7,94.4 L1088.4,97.5 L1091.1,100.5 L1093.9,103.4 L1096.7,106.3 L1099.6,109.1 L1102.6,111.7 L1105.7,114.3 L1108.8,116.7 L1112.1,119 L1115.4,121.2 L1118.8,123.2 L1122.4,125.1 L1126.1,126.8 L1129.9,128.3 L1133.8,129.6 L1137.8,130.8 L1142.1,131.7 L1146.4,132.4 L1150.9,132.9"/>
<polygon points="1163.5,137.2 1149.4,137.3 1152.4,128.5"/>
<path fill="none" d="M1024,46 L1028.6,47 L1032.9,48.3 L1037,49.8 L1040.9,51.6 L1044.4,53.7 L1047.8,55.9 L1050.9,58.4 L1053.8,61.1 L1056.6,63.9 L1059.1,66.9 L1061.4,70.1 L1063.5,73.4 L1065.5,76.8 L1067.3,80.3 L1069,84 L1070.5,87.7 L1071.9,91.5 L1073.1,95.4 L1074.3,99.3 L1075.3,103.2 L1076.3,107.2 L1077.3,111.2 L1078.2,115.2 L1079.1,119.2 L1080.1,123.2 L1081.1,127.2 L1082.1,131.2 L1083.3,135.2 L1084.5,139.1 L1085.8,143 L1087.2,146.8 L1088.6,150.6 L1090.2,154.4 L1091.8,158.1 L1093.5,161.8 L1095.3,165.4 L1097.1,169 L1099.1,172.6 L1101.1,176 L1103.2,179.5 L1105.4,182.8 L1107.6,186.1 L1110,189.4 L1112.4,192.6 L1114.9,195.7 L1117.5,198.7 L1120.2,201.7 L1123,204.6 L1125.8,207.5 L1128.7,210.2 L1131.7,212.9 L1134.8,215.5 L1138,218 L1141.3,220.4 L1144.6,222.8 L1148.1,225 L1151.6,227.2 L1155.2,229.2 L1158.9,231.2 L1162.7,233.1 L1166.6,234.8 L1170.5,236.5 L1174.6,238.1"/>
<polygon points="1185.6,245.5 1172,242 1177.2,234.2"/>
<path fill="none" d="M1021,46 L1025.5,46.9 L1029.9,48.1 L1034.1,49.5 L1038,51.2 L1041.8,53 L1045.3,55 L1048.7,57.2 L1051.9,59.6 L1054.9,62.2 L1057.7,64.9 L1060.4,67.8 L1062.8,70.8 L1065.1,73.9 L1067.2,77.2 L1069.1,80.5 L1070.8,84 L1072.4,87.5 L1073.8,91.1 L1075,94.8 L1076,98.5 L1076.9,102.3 L1077.6,106.1 L1078.2,109.9 L1078.6,113.8 L1078.9,117.7 L1079.1,121.6 L1079.2,125.6 L1079.2,129.6 L1079.1,133.6 L1078.9,137.6 L1078.6,141.7 L1078.3,145.7 L1078,149.8 L1077.6,153.9 L1077.2,158.1 L1076.7,162.2 L1076.3,166.3 L1075.9,170.5 L1075.5,174.6 L1075.1,178.8 L1074.8,182.9 L1074.5,187 L1074.3,191.2 L1074.1,195.3 L1074.1,199.5 L1074.1,203.6 L1074.2,207.7 L1074.4,211.8 L1074.7,215.8 L1075,219.9 L1075.5,223.9 L1076,228 L1076.6,231.9 L1077.3,235.9 L1078.1,239.8 L1079,243.7 L1080,247.6 L1081.1,251.4 L1082.2,255.2 L1083.5,258.9 L1084.8,262.6 L1086.2,266.3 L1087.8,269.9 L1089.4,273.4 L1091.1,276.9 L1092.9,280.3 L1094.8,283.7 L1096.8,287 L1098.9,290.3 L1101,293.5 L1103.3,296.6 L1105.7,299.7 L1108.2,302.6 L1110.7,305.5 L1113.4,308.4 L1116.1,311.1 L1119,313.8 L1122,316.3 L1125,318.8 L1128.2,321.2 L1131.4,323.6 L1134.8,325.8 L1138.2,327.9 L1141.8,329.9 L1145.5,331.9 L1149.2,333.7 L1153.1,335.4 L1157.1,337 L1161.1,338.5 L1165.3,339.9 L1169.6,341.2 L1174,342.3"/>
<polygon points="1186,348 1172,346.5 1176,338.1"/>
<path fill="none" d="M1022.1,111.3 L1134,134.5"/>
<polygon points="1147,137.2 1133,139.1 1134.9,129.9"/>
<path fill="none" d="M1292.3,141.5 L1392.3,131.7"/>
<polygon points="1405.5,130.4 1392.7,136.3 1391.8,127.1"/>
<path fill="none" d="M1292.3,158 L1392.8,169"/>
<polygon points="1406,170.5 1392.3,173.7 1393.3,164.4"/>
<path fill="none" d="M1577.2,120.5 L1678.3,120.5"/>
<polygon points="1691.6,120.5 1678.3,125.2 1678.3,115.8"/>
<path fill="none" d="M1015.5,188.7 L1137.2,165.1"/>
<polygon points="1150.3,162.6 1138.1,169.7 1136.4,160.5"/>
<path fill="none" d="M1015.5,188.7 L1019.3,188 L1023.1,187.3 L1027,186.6 L1030.9,186 L1034.7,185.4 L1038.6,184.8 L1042.5,184.2 L1046.5,183.6 L1050.4,183.1 L1054.4,182.6 L1058.4,182.1 L1062.3,181.6 L1066.3,181.2 L1070.3,180.8 L1074.4,180.4 L1078.4,180 L1082.4,179.7 L1086.5,179.4 L1090.5,179.1 L1094.6,178.9 L1098.7,178.7 L1102.8,178.5 L1106.8,178.3 L1110.9,178.2 L1115,178.1 L1119.1,178 L1123.2,178 L1127.3,178 L1131.4,178 L1135.5,178 L1139.6,178.1 L1143.7,178.2 L1147.8,178.4 L1151.9,178.6 L1156,178.8 L1160.1,179.1 L1164.2,179.3 L1168.3,179.7 L1172.4,180 L1176.5,180.4 L1180.5,180.9 L1184.6,181.3 L1188.7,181.8 L1192.7,182.4 L1196.8,183 L1200.8,183.6 L1204.8,184.3 L1208.8,185 L1212.8,185.7 L1216.8,186.5 L1220.8,187.3 L1224.8,188.2 L1228.7,189.1 L1232.7,190 L1236.6,191 L1240.5,192 L1244.4,193.1 L1248.2,194.2 L1252.1,195.4 L1255.9,196.6 L1259.8,197.9 L1263.6,199.2 L1267.3,200.5 L1271.1,201.9 L1274.8,203.3 L1278.5,204.8 L1282.2,206.3 L1285.9,207.9 L1289.5,209.5 L1293.2,211.1 L1296.8,212.8 L1300.3,214.6 L1303.9,216.4 L1307.4,218.2 L1310.9,220.1 L1314.4,222 L1317.8,224 L1321.2,226 L1324.6,228 L1328,230.1 L1331.3,232.2 L1334.6,234.4 L1337.9,236.6 L1341.1,238.9 L1344.3,241.2 L1347.5,243.5 L1350.6,245.9 L1353.7,248.3 L1356.8,250.8 L1359.9,253.3 L1362.9,255.8 L1365.9,258.4 L1368.8,261 L1371.7,263.7 L1374.6,266.4 L1377.4,269.1 L1380.2,271.9 L1383,274.7 L1385.7,277.6 L1388.4,280.5 L1391,283.4 L1393.7,286.4 L1396.2,289.4 L1398.8,292.4 L1401.2,295.5 L1403.7,298.6 L1406.1,301.8 L1408.5,304.9 L1410.8,308.2 L1413.1,311.4 L1415.4,314.7 L1417.6,318 L1419.8,321.3 L1422,324.7 L1424.1,328.1 L1426.2,331.6 L1428.2,335 L1430.2,338.5 L1432.2,342 L1434.1,345.5 L1436,349.1 L1437.8,352.7 L1439.7,356.3 L1441.4,359.9 L1443.2,363.6 L1444.9,367.3 L1446.6,371 L1448.2,374.7 L1449.8,378.4 L1451.4,382.2 L1452.9,386 L1454.4,389.8 L1455.9,393.6 L1457.3,397.4 L1458.7,401.3 L1460,405.1 L1461.4,409 L1462.6,412.9 L1463.9,416.8 L1465.1,420.7 L1466.3,424.6 L1467.5,428.6 L1468.6,432.5 L1469.7,436.5 L1470.7,440.4 L1471.7,444.4 L1472.7,448.4 L1473.7,452.4 L1474.6,456.4 L1475.5,460.4 L1476.3,464.4 L1477.1,468.4 L1477.9,472.4 L1478.7,476.5 L1479.4,480.5 L1480.1,484.5 L1480.7,488.5 L1481.4,492.6 L1482,496.6 L1482.5,500.6 L1483.1,504.6 L1483.6,508.7 L1484,512.7 L1484.5,516.7 L1484.9,520.7 L1485.2,524.7 L1485.6,528.7 L1485.9,532.7 L1486.2,536.7 L1486.4,540.7 L1486.7,544.6 L1486.9,548.6 L1487,552.6 L1487.2,556.5 L1487.3,560.4 L1487.3,564.4 L1487.4,568.3 L1487.4,572.2 L1487.4,576"/>
<polygon points="1488.5,589.3 1482.7,576.4 1492,575.7"/>
<path fill="none" d="M1037.6,228.5 L1127.2,243.3"/>
<polygon points="1140.3,245.5 1126.4,247.9 1127.9,238.7"/>
<path fill="none" d="M1022.1,228.5 L1026.4,229.5 L1030.5,230.6 L1034.5,231.9 L1038.4,233.3 L1042.2,234.9 L1045.9,236.7 L1049.4,238.6 L1052.9,240.6 L1056.3,242.7 L1059.6,245 L1062.9,247.4 L1066,249.8 L1069.1,252.4 L1072.1,255 L1075.1,257.8 L1078,260.6 L1080.9,263.4 L1083.8,266.3 L1086.6,269.3 L1089.3,272.3 L1092.1,275.4 L1094.8,278.5 L1097.5,281.6 L1100.3,284.7 L1103,287.8 L1105.7,290.9 L1108.4,294 L1111.2,297.1 L1113.9,300.2 L1116.7,303.2 L1119.5,306.2 L1122.4,309.2 L1125.3,312.1 L1128.2,314.9 L1131.2,317.7 L1134.2,320.4 L1137.4,323 L1140.5,325.6 L1143.8,328 L1147.1,330.3 L1150.6,332.6 L1154.1,334.7 L1157.7,336.6 L1161.4,338.5 L1165.2,340.2"/>
<polygon points="1176,348 1162.5,344 1168,336.4"/>
<path fill="none" d="M716.2,253.9 L815.7,230.8"/>
<polygon points="828.7,227.8 816.8,235.4 814.7,226.3"/>
<path fill="none" d="M746.5,273.7 L783.6,273.7"/>
<polygon points="796.9,273.7 783.6,278.4 783.6,269"/>
<path fill="none" d="M1046.4,267.6 L1109.4,264.5"/>
<polygon points="1122.7,263.8 1109.6,269.1 1109.2,259.8"/>
<path fill="none" d="M1010.8,253.5 L1014.5,251.8 L1018.2,250.1 L1021.8,248.4 L1025.5,246.7 L1029.2,245 L1032.8,243.3 L1036.5,241.6 L1040.2,239.9 L1043.8,238.2 L1047.5,236.4 L1051.1,234.7 L1054.8,233 L1058.5,231.2 L1062.1,229.5 L1065.8,227.7 L1069.4,226 L1073,224.2 L1076.7,222.4 L1080.3,220.7 L1084,218.9 L1087.6,217.1 L1091.2,215.3 L1094.9,213.5 L1098.5,211.8 L1102.1,210 L1105.7,208.2 L1109.4,206.4 L1113,204.6 L1116.6,202.8 L1120.2,200.9 L1123.9,199.1 L1127.5,197.3 L1131.1,195.5 L1134.7,193.7 L1138.3,191.9 L1141.9,190 L1145.5,188.2 L1149.1,186.4 L1152.7,184.5 L1156.4,182.7 L1160,180.8 L1163.6,179 L1167.2,177.2 L1170.8,175.3 L1174.4,173.5 L1178,171.6 L1181.6,169.8"/>
<polygon points="1193.4,163.7 1183.7,173.9 1179.4,165.6"/>
<path fill="none" d="M985.4,294.3 L1149.3,344.1"/>
<polygon points="1162,348 1147.9,348.6 1150.6,339.7"/>
<path fill="none" d="M1046.4,280.8 L1050.1,281.6 L1053.8,282.3 L1057.5,283 L1061.3,283.7 L1065,284.3 L1068.8,284.9 L1072.7,285.5 L1076.5,286 L1080.4,286.5 L1084.3,287 L1088.3,287.4 L1092.2,287.9 L1096.2,288.3 L1100.2,288.6 L1104.2,289 L1108.2,289.3 L1112.2,289.6 L1116.2,290 L1120.3,290.3 L1124.4,290.5 L1128.5,290.8 L1132.5,291.1 L1136.6,291.4 L1140.8,291.6 L1144.9,291.9 L1149,292.2 L1153.1,292.4 L1157.2,292.7 L1161.4,293 L1165.5,293.3 L1169.6,293.6 L1173.7,293.9 L1177.9,294.3 L1182,294.6 L1186.1,295 L1190.2,295.4 L1194.3,295.8 L1198.4,296.2 L1202.5,296.7 L1206.6,297.2 L1210.7,297.7 L1214.8,298.2 L1218.8,298.8 L1222.9,299.4 L1226.9,300.1 L1230.9,300.8 L1234.9,301.5 L1238.9,302.3 L1242.8,303.1 L1246.7,304 L1250.7,304.9 L1254.6,305.9 L1258.4,306.9 L1262.3,308 L1266.1,309.1 L1269.9,310.3 L1273.7,311.5 L1277.4,312.8 L1281.1,314.2 L1284.8,315.6 L1288.5,317.1 L1292.1,318.6 L1295.7,320.2 L1299.2,321.9 L1302.8,323.6 L1306.3,325.4 L1309.7,327.2 L1313.2,329.1 L1316.6,331.1 L1319.9,333.1 L1323.3,335.2 L1326.6,337.3 L1329.8,339.5 L1333,341.8 L1336.2,344.1 L1339.3,346.5 L1342.5,348.9 L1345.5,351.4 L1348.6,353.9 L1351.6,356.5 L1354.5,359.2 L1357.5,361.8 L1360.4,364.6 L1363.2,367.3 L1366.1,370.2 L1368.8,373 L1371.6,375.9 L1374.3,378.9 L1377,381.9 L1379.7,384.9 L1382.3,388 L1384.9,391.1 L1387.4,394.2 L1389.9,397.4 L1392.4,400.6 L1394.9,403.8 L1397.3,407.1 L1399.7,410.4 L1402,413.7 L1404.4,417.1 L1406.7,420.5 L1408.9,423.9 L1411.2,427.3 L1413.4,430.7 L1415.5,434.2 L1417.7,437.7 L1419.8,441.2 L1421.9,444.8 L1424,448.3 L1426,451.9 L1428,455.5 L1430,459.1 L1431.9,462.7 L1433.9,466.3 L1435.8,470 L1437.6,473.7 L1439.5,477.3 L1441.3,481 L1443.1,484.7 L1444.9,488.4 L1446.7,492.1 L1448.4,495.8 L1450.1,499.5 L1451.8,503.2 L1453.5,506.9 L1455.1,510.6 L1456.7,514.3 L1458.3,518 L1459.9,521.7 L1461.5,525.4 L1463,529.1 L1464.6,532.8 L1466.1,536.5 L1467.5,540.2 L1469,543.8 L1470.5,547.5 L1471.9,551.1 L1473.3,554.8 L1474.7,558.4 L1476.1,562 L1477.5,565.6 L1478.8,569.2 L1480.1,572.7 L1481.5,576.3"/>
<polygon points="1484.2,589.3 1476.9,577.3 1486,575.3"/>
<path fill="none" d="M1034.1,379.2 L1112.8,369.7"/>
<polygon points="1126,368.1 1113.4,374.3 1112.2,365.1"/>
<path fill="none" d="M995,371.6 L999.1,370.9 L1003.2,370.1 L1007.2,369.1 L1011.2,368.1 L1015.1,367.1 L1019,365.9 L1022.8,364.7 L1026.6,363.3 L1030.4,361.9 L1034.1,360.5 L1037.8,359 L1041.5,357.4 L1045.1,355.7 L1048.7,354 L1052.3,352.3 L1055.9,350.5 L1059.4,348.6 L1062.9,346.7 L1066.4,344.8 L1069.9,342.8 L1073.3,340.8 L1076.7,338.7 L1080.2,336.7 L1083.6,334.6 L1087,332.4 L1090.3,330.3 L1093.7,328.1 L1097.1,326 L1100.5,323.8 L1103.8,321.6 L1107.2,319.4 L1110.6,317.3 L1113.9,315.1 L1117.3,312.9 L1120.7,310.7 L1124.1,308.6 L1127.5,306.4 L1130.9,304.3 L1134.3,302.2 L1137.7,300.2 L1141.2,298.1 L1144.7,296.1 L1148.1,294.1 L1151.7,292.2 L1155.2,290.3 L1158.7,288.5 L1162.3,286.6 L1165.9,284.9 L1169.6,283.2 L1173.2,281.5 L1176.9,280 L1180.7,278.4"/>
<polygon points="1192.3,272 1182.9,282.5 1178.4,274.4"/>
<path fill="none" d="M1034.1,385.8 L1038.1,385.7 L1042,385.7 L1046,385.7 L1050,385.7 L1053.9,385.7 L1057.9,385.7 L1061.9,385.8 L1065.9,385.9 L1069.9,385.9 L1073.9,386.1 L1077.9,386.2 L1081.9,386.3 L1086,386.5 L1090,386.7 L1094,386.9 L1098,387.1 L1102.1,387.3 L1106.1,387.6 L1110.1,387.9 L1114.1,388.2 L1118.2,388.5 L1122.2,388.9 L1126.2,389.3 L1130.3,389.7 L1134.3,390.1 L1138.3,390.5 L1142.3,391 L1146.4,391.5 L1150.4,392 L1154.4,392.5 L1158.4,393.1 L1162.4,393.6 L1166.4,394.3 L1170.4,394.9 L1174.4,395.5 L1178.4,396.2 L1182.4,396.9 L1186.4,397.7 L1190.4,398.4 L1194.3,399.2 L1198.3,400 L1202.2,400.8 L1206.2,401.7 L1210.1,402.6 L1214.1,403.5 L1218,404.5 L1221.9,405.4 L1225.8,406.4 L1229.7,407.5 L1233.6,408.5 L1237.4,409.6 L1241.3,410.7 L1245.2,411.9 L1249,413 L1252.8,414.2 L1256.6,415.5 L1260.4,416.7 L1264.2,418 L1268,419.4 L1271.8,420.7 L1275.5,422.1 L1279.2,423.5 L1283,425 L1286.7,426.5 L1290.3,428 L1294,429.5 L1297.7,431.1 L1301.3,432.7 L1304.9,434.4 L1308.5,436 L1312.1,437.8 L1315.7,439.5 L1319.2,441.3 L1322.7,443.1 L1326.3,445 L1329.7,446.8 L1333.2,448.8 L1336.7,450.7 L1340.1,452.7 L1343.5,454.7 L1346.9,456.8 L1350.2,458.9 L1353.6,461 L1356.9,463.2 L1360.2,465.4 L1363.5,467.7 L1366.7,469.9 L1370,472.3 L1373.2,474.6 L1376.3,477 L1379.5,479.4 L1382.6,481.9 L1385.7,484.4 L1388.8,486.9 L1391.9,489.4 L1394.9,492 L1397.9,494.7 L1400.9,497.3 L1403.9,500 L1406.8,502.7 L1409.7,505.5 L1412.6,508.3 L1415.4,511.1 L1418.2,514 L1421,516.9 L1423.8,519.8 L1426.6,522.7 L1429.3,525.7 L1432,528.7 L1434.6,531.8 L1437.3,534.8 L1439.9,537.9 L1442.4,541.1 L1445,544.2 L1447.5,547.4 L1450,550.6 L1452.5,553.9 L1454.9,557.2 L1457.3,560.5 L1459.7,563.8 L1462,567.2 L1464.3,570.6 L1466.6,574 L1468.8,577.5"/>
<polygon points="1477.1,587.9 1465.2,580.4 1472.5,574.6"/>
<path fill="none" d="M345.9,429.8 L347.7,426.1 L349.5,422.4 L351.3,418.7 L353.2,415.1 L355.1,411.4 L357,407.8 L359,404.2 L361,400.7 L363,397.1 L365,393.6 L367.1,390.1 L369.2,386.6 L371.3,383.1 L373.5,379.7 L375.6,376.3 L377.8,372.9 L380,369.5 L382.3,366.2 L384.6,362.8 L386.9,359.5 L389.2,356.2 L391.6,353 L393.9,349.7 L396.3,346.5 L398.8,343.3 L401.2,340.1 L403.7,337 L406.2,333.9 L408.7,330.7 L411.3,327.7 L413.8,324.6 L416.4,321.5 L419,318.5 L421.7,315.5 L424.3,312.5 L427,309.6 L429.7,306.6 L432.5,303.7 L435.2,300.8 L438,298 L440.8,295.1 L443.6,292.3 L446.5,289.5 L449.3,286.7 L452.2,284 L455.1,281.3 L458,278.5 L461,275.9 L463.9,273.2 L466.9,270.5 L469.9,267.9 L473,265.3 L476,262.8 L479.1,260.2 L482.2,257.7 L485.3,255.2 L488.4,252.7 L491.5,250.2 L494.7,247.8 L497.9,245.4 L501.1,243 L504.3,240.6 L507.5,238.3 L510.8,235.9 L514,233.6 L517.3,231.4 L520.6,229.1 L523.9,226.9 L527.3,224.7 L530.6,222.5 L534,220.3 L537.4,218.1 L540.8,216 L544.2,213.9 L547.6,211.8 L551.1,209.8 L554.5,207.7 L558,205.7 L561.5,203.7 L565,201.7 L568.5,199.8 L572,197.8 L575.5,195.9 L579.1,194 L582.6,192.1 L586.2,190.3 L589.8,188.4 L593.4,186.6 L597,184.8 L600.6,183 L604.3,181.3 L607.9,179.5 L611.6,177.8 L615.2,176.1 L618.9,174.4 L622.6,172.8 L626.3,171.1 L630,169.5 L633.7,167.9 L637.4,166.3 L641.2,164.8 L644.9,163.2 L648.7,161.7 L652.4,160.2 L656.2,158.7 L659.9,157.2 L663.7,155.7 L667.5,154.3 L671.3,152.9 L675.1,151.5 L678.9,150.1 L682.7,148.7 L686.5,147.3 L690.4,146 L694.2,144.7 L698,143.4 L701.9,142.1 L705.7,140.8 L709.5,139.6 L713.4,138.3 L717.3,137.1 L721.1,135.9 L725,134.7 L728.8,133.5 L732.7,132.4 L736.6,131.3 L740.5,130.1 L744.3,129 L748.2,127.9 L752.1,126.9 L756,125.8 L759.9,124.7 L763.7,123.7 L767.6,122.7 L771.5,121.7 L775.4,120.7 L779.3,119.7 L783.2,118.8 L787.1,117.8 L790.9,116.9 L794.8,116 L798.7,115.1 L802.6,114.2"/>
<polygon points="815.5,111 803.7,118.7 801.5,109.7"/>
<path fill="none" d="M449.3,459.8 L453.3,460.2 L457.3,460.6 L461.3,460.9 L465.3,461.3 L469.3,461.7 L473.3,462.1 L477.2,462.5 L481.2,462.9 L485.2,463.2 L489.2,463.6 L493.2,464 L497.2,464.4 L501.2,464.8 L505.2,465.1 L509.2,465.5 L513.2,465.9 L517.2,466.3 L521.2,466.7 L525.2,467.1 L529.1,467.4 L533.1,467.8 L537.1,468.2 L541.1,468.6 L545.1,469 L549.1,469.4 L553.1,469.7 L557.1,470.1 L561.1,470.5 L565.1,470.9 L569.1,471.3 L573.1,471.7 L577.1,472.1 L581.1,472.5 L585.1,472.8 L589.1,473.2 L593,473.6 L597,474 L601,474.4 L605,474.8 L609,475.2 L613,475.6 L617,476 L621,476.4 L625,476.8 L629,477.2 L633,477.6 L637,478 L641,478.3 L645,478.7 L649,479.1 L652.9,479.5 L656.9,479.9 L660.9,480.3 L664.9,480.7 L668.9,481.1 L672.9,481.5 L676.9,482 L680.9,482.4 L684.9,482.8 L688.9,483.2 L692.9,483.6 L696.9,484 L700.9,484.4 L704.9,484.8 L708.8,485.2 L712.8,485.6 L716.8,486 L720.8,486.5 L724.8,486.9 L728.8,487.3 L732.8,487.7 L736.8,488.1 L740.8,488.5 L744.8,489 L748.8,489.4 L752.8,489.8 L756.8,490.2 L760.7,490.6 L764.7,491.1 L768.7,491.5 L772.7,491.9 L776.7,492.4 L780.7,492.8 L784.7,493.2 L788.7,493.6 L792.7,494.1 L796.7,494.5 L800.6,495 L804.6,495.4 L808.6,495.8 L812.6,496.3 L816.6,496.7 L820.6,497.2 L824.6,497.6 L828.6,498 L832.6,498.5 L836.5,498.9 L840.5,499.4 L844.5,499.8 L848.5,500.3 L852.5,500.7 L856.5,501.2 L860.5,501.7 L864.5,502.1 L868.4,502.6 L872.4,503 L876.4,503.5 L880.4,504 L884.4,504.4 L888.4,504.9 L892.4,505.4 L896.3,505.8 L900.3,506.3 L904.3,506.8 L908.3,507.3 L912.3,507.7 L916.3,508.2 L920.3,508.7 L924.2,509.2 L928.2,509.7 L932.2,510.2 L936.2,510.7 L940.2,511.1 L944.2,511.6 L948.1,512.1 L952.1,512.6 L956.1,513.1 L960.1,513.6 L964.1,514.1 L968,514.6 L972,515.1 L976,515.6 L980,516.2 L984,516.7 L987.9,517.2 L991.9,517.7 L995.9,518.2 L999.9,518.7 L1003.9,519.3 L1007.8,519.8 L1011.8,520.3 L1015.8,520.8 L1019.8,521.4 L1023.7,521.9 L1027.7,522.4 L1031.7,523 L1035.7,523.5 L1039.6,524 L1043.6,524.6 L1047.6,525.1 L1051.6,525.7 L1055.5,526.2 L1059.5,526.8 L1063.5,527.3 L1067.5,527.9 L1071.4,528.4 L1075.4,529 L1079.4,529.6 L1083.4,530.1 L1087.3,530.7 L1091.3,531.3 L1095.3,531.9 L1099.2,532.4 L1103.2,533 L1107.2,533.6 L1111.1,534.2 L1115.1,534.8 L1119.1,535.3 L1123.1,535.9 L1127,536.5 L1131,537.1 L1135,537.7 L1138.9,538.3 L1142.9,538.9 L1146.8,539.5 L1150.8,540.1 L1154.8,540.7 L1158.7,541.4 L1162.7,542 L1166.7,542.6 L1170.6,543.2 L1174.6,543.8 L1178.6,544.5 L1182.5,545.1 L1186.5,545.7 L1190.4,546.4 L1194.4,547 L1198.4,547.6 L1202.3,548.3 L1206.3,548.9 L1210.2,549.6 L1214.2,550.2 L1218.2,550.9 L1222.1,551.5 L1226.1,552.2 L1230,552.9 L1234,553.5 L1237.9,554.2 L1241.9,554.9 L1245.8,555.5 L1249.8,556.2 L1253.7,556.9 L1257.7,557.6 L1261.7,558.3 L1265.6,559 L1269.6,559.7 L1273.5,560.4 L1277.5,561.1 L1281.4,561.8 L1285.4,562.5 L1289.3,563.2 L1293.3,563.9 L1297.2,564.6 L1301.1,565.3 L1305.1,566 L1309,566.8 L1313,567.5 L1316.9,568.2 L1320.9,569 L1324.8,569.7 L1328.8,570.4 L1332.7,571.2 L1336.6,571.9 L1340.6,572.7 L1344.5,573.4 L1348.5,574.2 L1352.4,574.9 L1356.4,575.7 L1360.3,576.5 L1364.2,577.2 L1368.2,578 L1372.1,578.8 L1376,579.6 L1380,580.4 L1383.9,581.2 L1387.8,581.9 L1391.8,582.7 L1395.7,583.5 L1399.6,584.3 L1403.6,585.2 L1407.5,586 L1411.4,586.8"/>
<polygon points="1424.5,589.3 1410.6,591.4 1412.3,582.2"/>
<path fill="none" d="M349.8,469.7 L599,821.6"/>
<polygon points="606.7,832.5 595.2,824.3 602.8,818.9"/>
<path fill="none" d="M713.3,586.7 L872.4,559.5"/>
<polygon points="885.5,557.3 873.2,564.1 871.6,554.9"/>
<path fill="none" d="M713.3,602.2 L1366.3,602.2"/>
<polygon points="1379.6,602.2 1366.3,606.9 1366.3,597.5"/>
<path fill="none" d="M704.9,622.2 L858.1,660.7"/>
<polygon points="871,663.9 857,665.2 859.2,656.1"/>
<path fill="none" d="M654.3,622.2 L657.7,624.4 L661.2,626.5 L664.6,628.7 L668.1,630.8 L671.5,633 L675,635.1 L678.5,637.2 L682,639.3 L685.4,641.4 L688.9,643.5 L692.4,645.6 L695.9,647.6 L699.4,649.7 L703,651.7 L706.5,653.7 L710,655.8 L713.6,657.8 L717.1,659.8 L720.6,661.7 L724.2,663.7 L727.8,665.7 L731.3,667.6 L734.9,669.5 L738.5,671.4 L742.1,673.3 L745.7,675.2 L749.3,677.1 L752.9,679 L756.5,680.8 L760.2,682.7 L763.8,684.5 L767.4,686.3 L771.1,688.1 L774.7,689.9 L778.4,691.6 L782.1,693.4 L785.7,695.1 L789.4,696.8 L793.1,698.5 L796.8,700.2 L800.5,701.9 L804.2,703.6 L808,705.2 L811.7,706.8 L815.4,708.4 L819.2,710"/>
<polygon points="831.2,715.7 817.2,714.3 821.1,705.8"/>
<path fill="none" d="M668.7,581.4 L1166.5,378.1"/>
<polygon points="1178.8,373.1 1168.3,382.5 1164.7,373.8"/>
<path fill="none" d="M632.6,580.3 L633.9,576.4 L635.2,572.5 L636.6,568.7 L637.9,564.8 L639.3,561 L640.7,557.2 L642.2,553.4 L643.6,549.6 L645.1,545.8 L646.5,542.1 L648,538.3 L649.5,534.6 L651.1,530.9 L652.6,527.2 L654.1,523.4 L655.7,519.7 L657.3,516.1 L658.9,512.4 L660.5,508.7 L662.1,505 L663.7,501.4 L665.3,497.7 L666.9,494.1 L668.6,490.4 L670.2,486.8 L671.9,483.2 L673.5,479.5 L675.2,475.9 L676.8,472.3 L678.5,468.7 L680.2,465 L681.8,461.4 L683.5,457.8 L685.1,454.2 L686.8,450.6 L688.5,447 L690.1,443.4 L691.8,439.7 L693.4,436.1 L695.1,432.5 L696.7,428.9 L698.3,425.3 L699.9,421.6 L701.6,418 L703.2,414.4 L704.8,410.7 L706.4,407.1 L707.9,403.4 L709.5,399.8 L711,396.1 L712.6,392.4 L714.1,388.8 L715.6,385.1 L717.1,381.4 L718.6,377.7 L720.1,374 L721.5,370.2 L722.9,366.5 L724.3,362.8 L725.7,359 L727.1,355.2 L728.4,351.5 L729.8,347.7 L731.1,343.9 L732.3,340 L733.6,336.2 L734.8,332.4 L736,328.5 L737.2,324.6 L738.4,320.7 L739.5,316.8 L740.6,312.9 L741.6,308.9 L742.7,305 L743.7,301 L744.7,297 L745.6,293 L746.5,288.9 L747.4,284.9 L748.2,280.8 L749.1,276.7 L749.9,272.6 L750.7,268.5 L751.5,264.4 L752.4,260.4 L753.2,256.3 L754,252.2 L754.9,248.2 L755.8,244.2 L756.8,240.2 L757.8,236.3 L758.9,232.4 L760,228.5 L761.2,224.7 L762.5,221 L763.8,217.3 L765.2,213.7 L766.8,210.1 L768.4,206.6 L770.1,203.2 L772,199.8 L774,196.6 L776.1,193.4 L778.3,190.4 L780.6,187.4 L783.1,184.5 L785.7,181.8 L788.4,179.1 L791.3,176.6 L794.2,174.2 L797.3,171.9 L800.4,169.8 L803.7,167.7 L807.1,165.8 L810.6,164 L814.1,162.3 L817.7,160.8 L821.5,159.3 L825.2,157.9 L829.1,156.6 L833,155.4 L836.9,154.2 L840.9,153.2 L845,152.2 L849,151.3 L853.1,150.5 L857.3,149.7 L861.4,149 L865.6,148.3 L869.8,147.7 L873.9,147.1 L878.1,146.6 L882.3,146.1 L886.4,145.7 L890.5,145.2 L894.6,144.8 L898.7,144.5 L902.8,144.1 L906.8,143.8 L910.8,143.4 L914.9,143.2 L918.8,142.9 L922.8,142.6 L926.8,142.4 L930.8,142.2 L934.7,142 L938.7,141.8 L942.6,141.6 L946.5,141.5 L950.5,141.3 L954.4,141.2 L958.3,141.1 L962.3,141 L966.2,140.9 L970.2,140.8 L974.2,140.7 L978.1,140.6 L982.1,140.6 L986.1,140.5 L990.1,140.5 L994.1,140.4 L998.1,140.4 L1002.1,140.4 L1006.1,140.4 L1010.1,140.4 L1014.1,140.4 L1018.1,140.4 L1022.1,140.4 L1026.1,140.5 L1030.1,140.5 L1034.2,140.6 L1038.2,140.6 L1042.2,140.7 L1046.3,140.8 L1050.3,140.9 L1054.3,141 L1058.3,141.1 L1062.4,141.2 L1066.4,141.3 L1070.4,141.4 L1074.5,141.6 L1078.5,141.7 L1082.5,141.9 L1086.5,142 L1090.6,142.2 L1094.6,142.4 L1098.6,142.6 L1102.6,142.8 L1106.6,143 L1110.6,143.2 L1114.6,143.4 L1118.6,143.6 L1122.6,143.8"/>
<polygon points="1135.9,144.5 1122.4,148.5 1122.9,139.2"/>
<path fill="none" d="M633.7,581.4 L635,577.9 L636.4,574.4 L637.8,570.8 L639.2,567.3 L640.7,563.7 L642.1,560.2 L643.7,556.6 L645.2,553 L646.7,549.4 L648.3,545.8 L649.9,542.2 L651.6,538.6 L653.2,534.9 L654.9,531.3 L656.7,527.7 L658.4,524.1 L660.2,520.4 L662,516.8 L663.8,513.2 L665.7,509.6 L667.6,506 L669.5,502.4 L671.4,498.8 L673.4,495.2 L675.4,491.6 L677.4,488 L679.5,484.5 L681.6,480.9 L683.7,477.4 L685.8,473.8 L688,470.3 L690.2,466.8 L692.4,463.4 L694.6,459.9 L696.9,456.5 L699.2,453 L701.5,449.6 L703.9,446.3 L706.3,442.9 L708.7,439.6 L711.2,436.3 L713.6,433 L716.1,429.8 L718.7,426.5 L721.2,423.3 L723.8,420.2 L726.4,417 L729.1,413.9 L731.8,410.9 L734.5,407.8 L737.2,404.8 L740,401.9 L742.7,398.9 L745.6,396.1 L748.4,393.2 L751.3,390.4 L754.2,387.6 L757.1,384.9 L760.1,382.2 L763.1,379.6 L766.1,377 L769.1,374.5 L772.2,372 L775.3,369.5 L778.5,367.1 L781.6,364.8 L784.8,362.5 L788.1,360.2 L791.3,358 L794.6,355.9 L797.9,353.8 L801.2,351.8 L804.6,349.8 L808,347.9 L811.4,346.1 L814.9,344.3 L818.4,342.6 L821.9,340.9 L825.5,339.3 L829,337.8 L832.6,336.3 L836.3,334.9 L839.9,333.6 L843.6,332.3 L847.4,331.1 L851.1,330 L854.9,328.9 L858.7,327.9 L862.5,327 L866.4,326.1 L870.2,325.2 L874.1,324.4 L878,323.6 L882,322.9 L885.9,322.2 L889.9,321.6 L893.9,321 L897.8,320.5 L901.9,319.9 L905.9,319.5 L909.9,319 L913.9,318.6 L918,318.1 L922.1,317.8 L926.1,317.4 L930.2,317 L934.3,316.7 L938.4,316.4 L942.4,316.1 L946.5,315.8 L950.6,315.5 L954.7,315.2 L958.8,314.9 L962.9,314.6 L967,314.3 L971.1,314.1 L975.1,313.8 L979.2,313.5 L983.3,313.1 L987.3,312.8 L991.4,312.5 L995.4,312.1 L999.4,311.7 L1003.4,311.3 L1007.4,310.9 L1011.4,310.5 L1015.4,310 L1019.4,309.5 L1023.3,309 L1027.3,308.5 L1031.2,307.9 L1035.1,307.3 L1039,306.7 L1042.9,306.1 L1046.8,305.4 L1050.7,304.7 L1054.6,304 L1058.5,303.3 L1062.4,302.6 L1066.2,301.8 L1070.1,301 L1074,300.2 L1077.8,299.3 L1081.7,298.4 L1085.5,297.5 L1089.4,296.6 L1093.2,295.7 L1097,294.7 L1100.9,293.7 L1104.7,292.7 L1108.5,291.6 L1112.4,290.5 L1116.2,289.4 L1120,288.3 L1123.9,287.2 L1127.7,286 L1131.5,284.8 L1135.4,283.5 L1139.2,282.3 L1143.1,281 L1146.9,279.7 L1150.8,278.3 L1154.6,277 L1158.5,275.6"/>
<polygon points="1171.3,272 1159.8,280.1 1157.2,271.1"/>
<path fill="none" d="M636.6,622.3 L638.5,625.9 L640.4,629.6 L642.4,633.3 L644.4,637 L646.4,640.9 L648.4,644.7 L650.5,648.6 L652.5,652.6 L654.6,656.6 L656.7,660.6 L658.9,664.7 L661,668.8 L663.2,672.9 L665.3,677 L667.5,681.2 L669.7,685.3 L671.9,689.5 L674,693.7 L676.2,697.9 L678.4,702.1 L680.6,706.3 L682.8,710.5 L685,714.7 L687.2,718.9 L689.4,723.1 L691.6,727.3 L693.7,731.4 L695.9,735.5 L698.1,739.7 L700.2,743.7 L702.3,747.8 L704.4,751.8 L706.5,755.8 L708.6,759.7 L710.6,763.6 L712.6,767.5 L714.6,771.3 L716.6,775 L718.6,778.7 L720.5,782.4 L722.4,785.9 L724.2,789.4 L726.1,792.9 L727.8,796.3 L729.6,799.6 L731.3,802.8 L733,806 L734.6,809 L736.2,812 L737.8,814.9 L739.3,817.7 L740.8,820.4 L742.2,823 L743.5,825.5 L744.9,827.9 L746.1,830.2 L747.3,832.4 L748.5,834.5 L749.6,836.4 L750.6,838.3 L751.6,840 L754.6,845.4 L756.9,849.6 L758.9,853.1 L761.1,856.4 L764,860 L766.6,862.9 L769.6,866 L772.8,869.2 L776.2,872.3 L779.8,875.4 L783.3,878.3 L786.9,881 L790.4,883.5 L793.7,885.6 L798.1,887.9 L802.5,889.6 L806.9,891.1 L811.2,892.4 L815.6,893.9"/>
<polygon points="828,898.6 813.9,898.3 817.2,889.5"/>
<path fill="none" d="M646.7,873.1 L649.9,875.7 L653.1,878.4 L656.3,881.1 L659.4,883.8 L662.5,886.5 L665.6,889.3 L668.6,892 L671.6,894.9 L674.6,897.7 L677.5,900.6 L680.4,903.5 L683.2,906.4 L686,909.3 L688.8,912.3 L691.5,915.3 L694.2,918.4 L696.9,921.4 L699.5,924.5 L702,927.6 L704.5,930.8 L707,933.9 L709.4,937.1 L711.8,940.4 L714.1,943.6 L716.4,946.9 L718.6,950.2 L720.8,953.6 L722.9,957 L725,960.4 L727.1,963.8 L729,967.2 L731,970.7 L732.8,974.2 L734.7,977.8 L736.4,981.4 L738.2,985 L739.8,988.6 L741.4,992.3 L743,996 L744.4,999.7 L745.9,1003.4 L747.2,1007.2 L748.5,1011 L749.8,1014.8 L751,1018.7 L752.1,1022.6 L753.2,1026.5 L754.3,1030.4 L755.3,1034.4 L756.3,1038.3 L757.3,1042.3 L758.2,1046.3 L759.2,1050.3 L760.1,1054.2 L761,1058.2 L762,1062.2 L762.9,1066.2 L763.9,1070.1 L764.8,1074.1 L765.8,1078 L766.9,1081.9 L768,1085.8 L769.1,1089.6 L770.3,1093.4 L771.6,1097.1 L772.9,1100.8 L774.4,1104.5 L775.9,1108.1 L777.5,1111.6 L779.3,1115 L781.1,1118.4 L783.1,1121.7 L785.3,1124.9 L787.5,1128 L790,1131.1 L792.5,1134 L795.3,1136.8 L798.2,1139.5 L801.4,1142.1 L804.7,1144.6 L808.2,1147 L811.9,1149.2 L815.9,1151.3"/>
<polygon points="828.1,1156.5 814,1155.6 817.7,1147"/>
<path fill="none" d="M640,622.2 L642.2,625.4 L644.5,628.6 L646.7,631.8 L648.9,635 L651.2,638.3 L653.4,641.5 L655.7,644.8 L657.9,648.1 L660.2,651.4 L662.4,654.7 L664.7,658 L666.9,661.3 L669.1,664.6 L671.4,668 L673.6,671.3 L675.8,674.7 L678,678.1 L680.2,681.5 L682.4,684.9 L684.6,688.3 L686.8,691.7 L688.9,695.1 L691,698.6 L693.2,702 L695.3,705.5 L697.4,709 L699.4,712.5 L701.5,716 L703.5,719.5 L705.5,723 L707.5,726.6 L709.5,730.1 L711.4,733.7 L713.3,737.3 L715.2,740.9 L717.1,744.5 L718.9,748.1 L720.7,751.7 L722.5,755.3 L724.2,759 L725.9,762.6 L727.6,766.3 L729.2,770 L730.8,773.7 L732.4,777.4 L733.9,781.1 L735.4,784.8 L736.9,788.5 L738.3,792.3 L739.6,796 L741,799.8 L742.2,803.6 L743.5,807.4 L744.7,811.2 L745.8,815 L746.9,818.8 L748,822.7 L749,826.5 L749.9,830.4 L750.8,834.3 L751.7,838.1 L752.5,842 L753.2,846 L753.9,849.9 L754.6,853.8 L755.2,857.7 L755.7,861.7 L756.2,865.6 L756.7,869.6 L757.1,873.6 L757.4,877.6 L757.8,881.6 L758,885.5 L758.3,889.5 L758.5,893.6 L758.7,897.6 L758.8,901.6 L758.9,905.6 L759,909.6 L759,913.6 L759,917.7 L759,921.7 L759,925.7 L758.9,929.8 L758.8,933.8 L758.7,937.8 L758.6,941.9 L758.4,945.9 L758.2,949.9 L758,953.9 L757.8,958 L757.6,962 L757.3,966 L757.1,970 L756.8,974 L756.5,978 L756.3,982 L756,986 L755.7,990 L755.4,994 L755.1,998 L754.8,1001.9 L754.5,1005.9 L754.2,1009.9 L754,1013.8 L753.8,1017.7 L753.6,1021.7 L753.5,1025.6 L753.5,1029.6 L753.5,1033.5 L753.5,1037.4 L753.7,1041.3 L753.9,1045.2 L754.2,1049.2 L754.5,1053.1 L754.9,1057 L755.4,1060.9 L755.9,1064.8 L756.4,1068.7 L757.1,1072.6 L757.7,1076.6 L758.4,1080.5 L759.1,1084.4 L759.9,1088.3 L760.6,1092.3 L761.4,1096.2 L762.2,1100.2 L763,1104.1 L763.9,1108 L764.7,1112 L765.6,1115.9 L766.5,1119.9 L767.4,1123.8 L768.3,1127.7 L769.3,1131.6 L770.3,1135.5 L771.4,1139.4 L772.4,1143.3 L773.6,1147.2 L774.7,1151 L776,1154.9 L777.2,1158.7 L778.5,1162.5 L779.9,1166.3 L781.3,1170 L782.7,1173.8 L784.2,1177.5 L785.8,1181.2 L787.3,1184.8 L789,1188.5 L790.6,1192.1 L792.4,1195.7 L794.1,1199.3 L796,1202.9 L797.8,1206.4 L799.7,1209.9 L801.7,1213.3 L803.7,1216.8 L805.7,1220.2 L807.9,1223.6 L810,1226.9 L812.2,1230.2 L814.4,1233.5 L816.7,1236.7 L819.1,1239.9 L821.5,1243.1 L823.9,1246.3 L826.4,1249.4 L828.9,1252.4 L831.5,1255.4 L834.2,1258.4 L836.8,1261.4 L839.6,1264.3 L842.4,1267.1 L845.2,1269.9 L848.1,1272.7 L851,1275.5 L854,1278.1 L857,1280.8 L860.1,1283.4 L863.2,1285.9 L866.4,1288.4 L869.7,1290.9 L872.9,1293.3 L876.3,1295.6 L879.7,1297.9 L883.1,1300.2 L886.6,1302.4 L890.1,1304.5"/>
<polygon points="900.7,1312.6 887.3,1308.2 893,1300.8"/>
<path fill="none" d="M641,622.2 L643.4,625.2 L645.8,628.2 L648.2,631.3 L650.6,634.3 L652.9,637.4 L655.3,640.6 L657.6,643.7 L660,646.9 L662.3,650.1 L664.6,653.3 L667,656.5 L669.3,659.7 L671.5,663 L673.8,666.3 L676.1,669.6 L678.3,673 L680.6,676.3 L682.8,679.7 L685,683.1 L687.2,686.5 L689.3,689.9 L691.5,693.4 L693.6,696.8 L695.7,700.3 L697.8,703.8 L699.8,707.3 L701.9,710.9 L703.9,714.4 L705.9,718 L707.9,721.5 L709.9,725.1 L711.8,728.7 L713.7,732.3 L715.6,736 L717.4,739.6 L719.2,743.3 L721,746.9 L722.8,750.6 L724.6,754.3 L726.3,758 L727.9,761.7 L729.6,765.5 L731.2,769.2 L732.8,772.9 L734.4,776.7 L735.9,780.5 L737.4,784.2 L738.8,788 L740.2,791.8 L741.6,795.6 L743,799.4 L744.3,803.2 L745.6,807 L746.8,810.8 L748,814.7 L749.1,818.5 L750.3,822.3 L751.3,826.2 L752.4,830 L753.4,833.9 L754.3,837.7 L755.2,841.6 L756.1,845.4 L756.9,849.3 L757.7,853.2 L758.4,857 L759.1,860.9 L759.7,864.8 L760.3,868.6 L760.9,872.5 L761.4,876.4 L761.9,880.3 L762.3,884.1 L762.7,888 L763.1,891.9 L763.4,895.8 L763.7,899.7 L764,903.6 L764.2,907.5 L764.4,911.4 L764.6,915.4 L764.7,919.3 L764.8,923.2 L764.9,927.1 L764.9,931.1 L765,935 L765,939 L765,942.9 L764.9,946.9 L764.9,950.9 L764.8,954.9 L764.7,958.8 L764.6,962.8 L764.4,966.8 L764.3,970.9 L764.1,974.9 L763.9,978.9 L763.7,982.9 L763.5,987 L763.3,991 L763.1,995.1 L762.9,999.2 L762.6,1003.3 L762.4,1007.3 L762.1,1011.5 L761.8,1015.6 L761.6,1019.7 L761.3,1023.8 L761,1028 L760.8,1032.1 L760.5,1036.3 L760.2,1040.5 L760,1044.7 L759.7,1048.8 L759.5,1053 L759.3,1057.2 L759.1,1061.4 L758.9,1065.6 L758.8,1069.8 L758.7,1073.9 L758.6,1078.1 L758.5,1082.2 L758.5,1086.4 L758.5,1090.5 L758.6,1094.6 L758.7,1098.7 L758.8,1102.8 L759.1,1106.8 L759.3,1110.8 L759.6,1114.8 L760,1118.8 L760.4,1122.8 L760.9,1126.7 L761.5,1130.5 L762.1,1134.4 L762.8,1138.2 L763.6,1142 L764.5,1145.7 L765.4,1149.4 L766.5,1153 L767.6,1156.6 L768.8,1160.2 L770.1,1163.7 L771.5,1167.1 L773,1170.5 L774.6,1173.9 L776.3,1177.2 L778.1,1180.4 L780,1183.6 L782,1186.7 L784.1,1189.7 L786.3,1192.7 L788.7,1195.7 L791.1,1198.5 L793.6,1201.3 L796.2,1204.1 L798.9,1206.8 L801.7,1209.4 L804.5,1211.9 L807.5,1214.4 L810.5,1216.9 L813.6,1219.2 L816.7,1221.6 L820,1223.8 L823.3,1226 L826.6,1228.1 L830.1,1230.2 L833.5,1232.1 L837.1,1234.1 L840.7,1235.9 L844.3,1237.7 L848,1239.5 L851.8,1241.1 L855.6,1242.7 L859.4,1244.3 L863.3,1245.7 L867.2,1247.1 L871.1,1248.5 L875.1,1249.7 L879.1,1250.9 L883.1,1252.1 L887.2,1253.1 L891.2,1254.1 L895.3,1255.1 L899.4,1255.9 L903.5,1256.7 L907.6,1257.5 L911.8,1258.1 L915.9,1258.7 L920.1,1259.2 L924.2,1259.7 L928.3,1260 L932.5,1260.4 L936.6,1260.6 L940.7,1260.8 L944.8,1260.9 L948.9,1260.9 L953,1260.8 L957,1260.7 L961.1,1260.6 L965.1,1260.4 L969.1,1260.1 L973.1,1259.7 L977.1,1259.3 L981.1,1258.9 L985.1,1258.4 L989.1,1257.9 L993,1257.3 L997,1256.7 L1000.9,1256.1 L1004.9,1255.4 L1008.8,1254.7 L1012.7,1253.9 L1016.6,1253.2 L1020.5,1252.4 L1024.4,1251.6 L1028.4,1250.7 L1032.3,1249.9 L1036.1,1249 L1040,1248.2 L1043.9,1247.3 L1047.8,1246.4 L1051.7,1245.5 L1055.6,1244.6 L1059.5,1243.7 L1063.4,1242.9 L1067.3,1242 L1071.1,1241.1 L1075,1240.3 L1078.9,1239.4 L1082.8,1238.6 L1086.7,1237.8 L1090.6,1237 L1094.5,1236.3 L1098.4,1235.5 L1102.3,1234.8 L1106.3,1234.1 L1110.2,1233.5 L1114.1,1232.8 L1118,1232.2 L1122,1231.6 L1125.9,1231 L1129.8,1230.5 L1133.8,1229.9 L1137.7,1229.4 L1141.7,1228.9 L1145.6,1228.4 L1149.6,1228 L1153.5,1227.5 L1157.5,1227.1 L1161.4,1226.7 L1165.4,1226.4 L1169.4,1226 L1173.3,1225.7 L1177.3,1225.4 L1181.3,1225.1 L1185.3,1224.8 L1189.2,1224.5 L1193.2,1224.3 L1197.2,1224.1 L1201.2,1223.9 L1205.2,1223.7 L1209.2,1223.5 L1213.2,1223.4 L1217.2,1223.2 L1221.2,1223.1 L1225.2,1223 L1229.2,1222.9 L1233.2,1222.8 L1237.2,1222.8 L1241.2,1222.7 L1245.2,1222.7 L1249.2,1222.7 L1253.2,1222.6 L1257.2,1222.6 L1261.3,1222.7 L1265.3,1222.7 L1269.3,1222.7 L1273.3,1222.7 L1277.3,1222.8 L1281.3,1222.8 L1285.4,1222.9 L1289.4,1222.9 L1293.4,1223 L1297.4,1223.1 L1301.5,1223.2 L1305.5,1223.2 L1309.5,1223.3 L1313.5,1223.4 L1317.6,1223.5 L1321.6,1223.6 L1325.6,1223.7 L1329.6,1223.8 L1333.7,1223.9 L1337.7,1224 L1341.7,1224.1 L1345.7,1224.2 L1349.8,1224.3 L1353.8,1224.4 L1357.8,1224.5 L1361.8,1224.6 L1365.9,1224.7 L1369.9,1224.8 L1373.9,1224.8 L1377.9,1224.9 L1381.9,1225 L1386,1225 L1390,1225.1 L1394,1225.1 L1398,1225.2 L1402,1225.2 L1406,1225.2 L1410,1225.3 L1414,1225.3 L1418,1225.3 L1422.1,1225.3 L1426.1,1225.2 L1430.1,1225.2 L1434.1,1225.2 L1438.1,1225.2 L1442.1,1225.1 L1446.1,1225.1 L1450.1,1225 L1454.1,1225 L1458,1224.9 L1462,1224.9 L1466,1224.8 L1470,1224.8 L1474,1224.7 L1478,1224.6 L1482,1224.6 L1486,1224.5 L1490,1224.4 L1494,1224.4 L1498,1224.3 L1502,1224.2 L1506,1224.2 L1510,1224.1 L1514,1224.1 L1518,1224 L1521.9,1224 L1525.9,1223.9 L1529.9,1223.9 L1533.9,1223.8 L1537.9,1223.8 L1541.9,1223.7 L1545.9,1223.7 L1549.9,1223.7 L1553.9,1223.7 L1557.9,1223.6 L1561.9,1223.6 L1565.9,1223.6 L1569.9,1223.7 L1573.9,1223.7 L1577.9,1223.7 L1581.9,1223.7 L1586,1223.8 L1590,1223.8 L1594,1223.9 L1598,1223.9 L1602,1224 L1606,1224.1 L1610,1224.2 L1614.1,1224.3 L1618.1,1224.4 L1622.1,1224.6 L1626.1,1224.7 L1630.1,1224.8 L1634.2,1224.9 L1638.2,1225.1 L1642.2,1225.2 L1646.2,1225.3 L1650.3,1225.5 L1654.3,1225.6 L1658.3,1225.7 L1662.3,1225.8 L1666.4,1225.9 L1670.4,1226 L1674.4,1226.1 L1678.4,1226.2 L1682.4,1226.2 L1686.5,1226.3 L1690.5,1226.3 L1694.5,1226.3 L1698.5,1226.3 L1702.5,1226.3 L1706.5,1226.3 L1710.5,1226.2 L1714.5,1226.2 L1718.5,1226.1 L1722.5,1225.9 L1726.5,1225.8 L1730.5,1225.6 L1734.5,1225.4 L1738.5,1225.2 L1742.5,1224.9 L1746.5,1224.7 L1750.4,1224.3 L1754.4,1224 L1758.4,1223.6 L1762.4,1223.2 L1766.3,1222.7 L1770.3,1222.3 L1774.2,1221.7 L1778.2,1221.2 L1782.1,1220.6 L1786.1,1219.9 L1790,1219.3 L1793.9,1218.6 L1797.8,1217.8 L1801.8,1217 L1805.7,1216.2 L1809.6,1215.4 L1813.5,1214.5 L1817.4,1213.6 L1821.2,1212.7 L1825.1,1211.7 L1829,1210.7 L1832.8,1209.6 L1836.7,1208.6 L1840.5,1207.5 L1844.4,1206.3 L1848.2,1205.2 L1852,1204 L1855.9,1202.7 L1859.7,1201.5 L1863.5,1200.2 L1867.2,1198.9 L1871,1197.5 L1874.8,1196.2 L1878.5,1194.8 L1882.3,1193.3 L1886,1191.9 L1889.7,1190.4 L1893.5,1188.9 L1897.2,1187.3 L1900.9,1185.7 L1904.5,1184.1 L1908.2,1182.5 L1911.9,1180.9 L1915.5,1179.2 L1919.2,1177.5 L1922.8,1175.7 L1926.4,1174 L1930,1172.2 L1933.6,1170.4 L1937.1,1168.6 L1940.7,1166.7 L1944.2,1164.8 L1947.8,1162.9 L1951.3,1161 L1954.8,1159.1 L1958.3,1157.1 L1961.8,1155.1 L1965.2,1153.1 L1968.7,1151 L1972.1,1149 L1975.5,1146.9 L1979,1144.8 L1982.4,1142.7 L1985.7,1140.5 L1989.1,1138.4 L1992.5,1136.2 L1995.8,1134 L1999.1,1131.7 L2002.4,1129.5 L2005.7,1127.2 L2009,1124.9 L2012.3,1122.6 L2015.6,1120.3 L2018.8,1117.9 L2022.1,1115.6 L2025.3,1113.2 L2028.5,1110.8 L2031.7,1108.3 L2034.9,1105.9 L2038,1103.4 L2041.2,1101 L2044.4,1098.5 L2047.5,1096 L2050.6,1093.4 L2053.7,1090.9 L2056.8,1088.3 L2059.9,1085.8 L2063,1083.2 L2066,1080.5 L2069,1077.9 L2072.1,1075.3 L2075.1,1072.6 L2078.1,1070 L2081.1,1067.3 L2084.1,1064.6 L2087,1061.8 L2090,1059.1 L2092.9,1056.4 L2095.9,1053.6 L2098.8,1050.8 L2101.7,1048.1 L2104.6,1045.3 L2107.5,1042.4 L2110.3,1039.6 L2113.2,1036.8 L2116,1033.9 L2118.9,1031.1 L2121.7,1028.2 L2124.5,1025.3 L2127.3,1022.4 L2130.1,1019.5 L2132.8,1016.6 L2135.6,1013.7 L2138.4,1010.7 L2141.1,1007.8 L2143.8,1004.8 L2146.5,1001.8 L2149.2,998.8 L2151.9,995.9 L2154.6,992.8 L2157.3,989.8 L2159.9,986.8 L2162.5,983.8 L2165.2,980.8 L2167.8,977.7 L2170.4,974.7 L2173,971.6 L2175.6,968.5 L2178.1,965.4 L2180.7,962.4 L2183.3,959.3 L2185.8,956.2 L2188.3,953.1 L2190.8,950 L2193.3,946.8 L2195.8,943.7 L2198.3,940.6 L2200.8,937.4 L2203.2,934.3 L2205.7,931.2 L2208.1,928 L2210.6,924.8 L2213,921.7 L2215.4,918.5 L2217.8,915.4 L2220.1,912.2 L2222.5,909 L2224.9,905.8"/>
<polygon points="2235,897.2 2227.9,909.4 2221.8,902.3"/>
<path fill="none" d="M637.9,1331 L639.6,1327.4 L641.3,1323.8 L643.1,1320.2 L644.8,1316.6 L646.5,1313.1 L648.3,1309.5 L650,1305.9 L651.8,1302.3 L653.6,1298.7 L655.3,1295.1 L657.1,1291.5 L658.9,1287.9 L660.6,1284.3 L662.4,1280.7 L664.2,1277.1 L665.9,1273.5 L667.7,1269.9 L669.5,1266.3 L671.2,1262.7 L673,1259.1 L674.8,1255.5 L676.5,1251.8 L678.3,1248.2 L680,1244.6 L681.7,1241 L683.5,1237.4 L685.2,1233.7 L686.9,1230.1 L688.6,1226.5 L690.3,1222.8 L692,1219.2 L693.7,1215.5 L695.4,1211.9 L697,1208.2 L698.7,1204.6 L700.3,1200.9 L701.9,1197.2 L703.5,1193.6 L705.1,1189.9 L706.7,1186.2 L708.2,1182.5 L709.8,1178.8 L711.3,1175.1 L712.8,1171.4 L714.3,1167.7 L715.8,1164 L717.2,1160.3 L718.7,1156.6 L720.1,1152.8 L721.5,1149.1 L722.8,1145.4 L724.2,1141.6 L725.5,1137.9 L726.8,1134.1 L728.1,1130.4 L729.4,1126.6 L730.6,1122.8 L731.8,1119 L733,1115.2 L734.1,1111.4 L735.2,1107.6 L736.3,1103.8 L737.4,1100 L738.4,1096.2 L739.4,1092.3 L740.4,1088.5 L741.3,1084.6 L742.2,1080.8 L743.1,1076.9 L744,1073 L744.8,1069.2 L745.5,1065.3 L746.3,1061.4 L747,1057.5 L747.7,1053.5 L748.3,1049.6 L749,1045.7 L749.6,1041.8 L750.1,1037.8 L750.7,1033.9 L751.2,1029.9 L751.7,1026 L752.1,1022 L752.5,1018 L753,1014.1 L753.3,1010.1 L753.7,1006.1 L754.1,1002.1 L754.4,998.1 L754.7,994.1 L755,990.1 L755.2,986.1 L755.5,982.1 L755.7,978.1 L755.9,974.1 L756.1,970.1 L756.2,966.1 L756.4,962.1 L756.5,958 L756.7,954 L756.8,950 L756.9,946 L757,941.9 L757.1,937.9 L757.1,933.9 L757.2,929.9 L757.2,925.8 L757.3,921.8 L757.3,917.8 L757.4,913.8 L757.4,909.8 L757.4,905.7 L757.4,901.7 L757.4,897.7 L757.4,893.7 L757.4,889.7 L757.4,885.7 L757.4,881.6 L757.4,877.6 L757.3,873.6 L757.3,869.6 L757.3,865.6 L757.3,861.6 L757.2,857.6 L757.2,853.6 L757.2,849.6 L757.1,845.6 L757.1,841.6 L757,837.6 L757,833.6 L756.9,829.6 L756.8,825.7 L756.8,821.7 L756.7,817.7 L756.7,813.7 L756.6,809.7 L756.5,805.7 L756.4,801.7 L756.4,797.8 L756.3,793.8 L756.2,789.8 L756.1,785.8 L756,781.8 L755.9,777.9 L755.8,773.9 L755.7,769.9 L755.7,765.9 L755.6,761.9 L755.5,758 L755.4,754 L755.3,750 L755.2,746 L755,742.1 L754.9,738.1 L754.8,734.1 L754.7,730.2 L754.6,726.2 L754.5,722.2 L754.4,718.2 L754.3,714.3 L754.2,710.3 L754,706.3 L753.9,702.3 L753.8,698.4 L753.7,694.4 L753.6,690.4 L753.4,686.5 L753.3,682.5 L753.2,678.5 L753.1,674.5 L753,670.6 L752.8,666.6 L752.7,662.6 L752.6,658.6 L752.5,654.7 L752.3,650.7 L752.2,646.7 L752.1,642.7 L752,638.8 L751.9,634.8 L751.7,630.8 L751.6,626.8 L751.5,622.8 L751.4,618.9 L751.3,614.9 L751.1,610.9 L751,606.9 L750.9,602.9 L750.8,598.9 L750.7,595 L750.6,591 L750.4,587 L750.3,583 L750.2,579 L750.1,575 L750,571 L749.9,567 L749.8,563 L749.7,559 L749.6,555 L749.5,551 L749.4,547 L749.3,543 L749.2,539 L749.1,535 L749,531 L748.9,527 L748.8,523 L748.7,518.9 L748.7,514.9 L748.6,510.9 L748.5,506.9 L748.4,502.9 L748.4,498.8 L748.3,494.8 L748.2,490.8 L748.2,486.8 L748.1,482.7 L748,478.7 L748,474.6 L747.9,470.6 L747.9,466.6 L747.8,462.5 L747.8,458.5 L747.8,454.4 L747.7,450.4 L747.7,446.3 L747.7,442.3 L747.6,438.2 L747.6,434.1 L747.6,430.1 L747.6,426 L747.6,421.9 L747.6,417.9 L747.6,413.8 L747.6,409.7 L747.6,405.6 L747.6,401.6 L747.6,397.5 L747.6,393.4 L747.7,389.3 L747.7,385.2 L747.8,381.1 L747.9,377.1 L747.9,373 L748,368.9 L748.2,364.8 L748.3,360.8 L748.4,356.7 L748.6,352.6 L748.8,348.6 L749,344.5 L749.2,340.5 L749.5,336.4 L749.8,332.4 L750.1,328.4 L750.4,324.3 L750.7,320.3 L751.1,316.3 L751.5,312.3 L752,308.3 L752.4,304.4 L752.9,300.4 L753.5,296.5 L754,292.5 L754.6,288.6 L755.3,284.7 L755.9,280.8 L756.6,276.9 L757.4,273 L758.2,269.1 L759,265.3 L759.8,261.5 L760.7,257.6 L761.7,253.8 L762.7,250.1 L763.7,246.3 L764.8,242.5 L765.9,238.8 L767.1,235.1 L768.4,231.4 L769.6,227.7 L771,224.1 L772.3,220.5 L773.8,216.8 L775.3,213.3 L776.8,209.7 L778.4,206.2 L780.1,202.6 L781.8,199.1 L783.6,195.7 L785.4,192.2 L787.3,188.8 L789.2,185.4 L791.3,182 L793.3,178.7 L795.5,175.4 L797.7,172.1 L800,168.9 L802.4,165.7 L804.8,162.6 L807.3,159.5 L809.9,156.5 L812.5,153.5 L815.2,150.6 L818,147.7 L820.9,145 L823.9,142.2 L826.9,139.6 L830,137 L833.3,134.5 L836.6,132.1 L839.9,129.8 L843.4,127.5 L847,125.4 L850.6,123.3 L854.4,121.3 L858.2,119.5"/>
<polygon points="869.6,112.6 860.6,123.5 855.8,115.4"/>
<path fill="none" d="M631.8,1331.5 L632.9,1327.7 L634,1323.9 L635.1,1320.1 L636.2,1316.3 L637.4,1312.5 L638.6,1308.7 L639.8,1304.9 L641.1,1301.1 L642.3,1297.3 L643.7,1293.5 L645,1289.7 L646.3,1285.9 L647.7,1282.2 L649.1,1278.4 L650.6,1274.7 L652,1270.9 L653.5,1267.2 L655,1263.4 L656.6,1259.7 L658.1,1256 L659.7,1252.3 L661.4,1248.6 L663,1244.9 L664.7,1241.2 L666.3,1237.5 L668.1,1233.8 L669.8,1230.2 L671.5,1226.5 L673.3,1222.9 L675.1,1219.2 L677,1215.6 L678.8,1212 L680.7,1208.4 L682.6,1204.8 L684.5,1201.2 L686.5,1197.6 L688.4,1194.1 L690.4,1190.5 L692.4,1187 L694.5,1183.5 L696.5,1179.9 L698.6,1176.5 L700.7,1173 L702.8,1169.5 L705,1166 L707.1,1162.6 L709.3,1159.2 L711.5,1155.7 L713.8,1152.3 L716,1149 L718.3,1145.6 L720.6,1142.2 L722.9,1138.9 L725.2,1135.6 L727.5,1132.2 L729.9,1129 L732.3,1125.7 L734.7,1122.4 L737.1,1119.2 L739.6,1115.9 L742.1,1112.7 L744.5,1109.6 L747.1,1106.4 L749.6,1103.3 L752.2,1100.3 L754.8,1097.3 L757.5,1094.3 L760.2,1091.4 L763,1088.5 L765.8,1085.7 L768.7,1083 L771.6,1080.4 L774.6,1077.8 L777.6,1075.3 L780.7,1072.9 L783.9,1070.6 L787.1,1068.4 L790.4,1066.2 L793.8,1064.2 L797.3,1062.3 L800.9,1060.5 L804.5,1058.9 L808.2,1057.3 L812,1055.9 L815.9,1054.6"/>
<polygon points="828.6,1050.5 817.4,1059 814.5,1050.2"/>
<path fill="none" d="M744.7,1340.7 L793.2,1337"/>
<polygon points="806.5,1336 793.6,1341.7 792.9,1332.4"/>
<path fill="none" d="M744.7,1368.5 L748.7,1369.1 L752.6,1369.6 L756.6,1370.2 L760.5,1370.7 L764.5,1371.3 L768.5,1371.8 L772.4,1372.3 L776.4,1372.9 L780.4,1373.4 L784.3,1373.9 L788.3,1374.4 L792.3,1374.9 L796.3,1375.5 L800.2,1376 L804.2,1376.5 L808.2,1376.9 L812.2,1377.4 L816.1,1377.9 L820.1,1378.4 L824.1,1378.9 L828.1,1379.3 L832,1379.8 L836,1380.2 L840,1380.7 L844,1381.1 L848,1381.6 L852,1382 L855.9,1382.4 L859.9,1382.9 L863.9,1383.3 L867.9,1383.7 L871.9,1384.1 L875.9,1384.5 L879.9,1384.9 L883.9,1385.2 L887.8,1385.6 L891.8,1386 L895.8,1386.3 L899.8,1386.7 L903.8,1387 L907.8,1387.4 L911.8,1387.7 L915.8,1388 L919.8,1388.3 L923.8,1388.6 L927.8,1388.9 L931.8,1389.2 L935.8,1389.5 L939.8,1389.8 L943.8,1390.1 L947.8,1390.3 L951.8,1390.6 L955.8,1390.8 L959.8,1391 L963.8,1391.3 L967.8,1391.5 L971.8,1391.7 L975.8,1391.9 L979.8,1392.1 L983.8,1392.3 L987.8,1392.4 L991.8,1392.6 L995.8,1392.8 L999.8,1392.9 L1003.8,1393 L1007.8,1393.2 L1011.8,1393.3 L1015.8,1393.4 L1019.8,1393.5 L1023.8,1393.6 L1027.8,1393.7 L1031.8,1393.7 L1035.8,1393.8 L1039.8,1393.9 L1043.8,1393.9 L1047.8,1394 L1051.8,1394 L1055.8,1394.1 L1059.8,1394.1 L1063.8,1394.2 L1067.8,1394.2 L1071.8,1394.2 L1075.8,1394.2 L1079.8,1394.2 L1083.8,1394.3 L1087.8,1394.3 L1091.8,1394.3 L1095.8,1394.3 L1099.8,1394.3 L1103.8,1394.3 L1107.8,1394.3 L1111.8,1394.3 L1115.8,1394.3 L1119.8,1394.3 L1123.8,1394.2 L1127.8,1394.2 L1131.8,1394.1 L1135.8,1394.1 L1139.8,1394 L1143.8,1393.9 L1147.8,1393.8 L1151.8,1393.7 L1155.8,1393.5 L1159.8,1393.4 L1163.8,1393.2 L1167.8,1393 L1171.8,1392.8 L1175.8,1392.6 L1179.8,1392.3 L1183.7,1392.1 L1187.7,1391.8 L1191.7,1391.5 L1195.7,1391.1 L1199.7,1390.8 L1203.7,1390.4 L1207.7,1390 L1211.7,1389.5 L1215.7,1389.1 L1219.7,1388.6 L1223.7,1388 L1227.7,1387.5 L1231.7,1386.9 L1235.7,1386.3 L1239.7,1385.6 L1243.6,1384.9 L1247.6,1384.2 L1251.6,1383.4 L1255.6,1382.6 L1259.6,1381.8 L1263.6,1380.9 L1267.6,1380 L1271.6,1379.1 L1275.5,1378.1 L1279.5,1377 L1283.4,1375.9 L1287.4,1374.7 L1291.2,1373.5 L1295.1,1372.2 L1298.9,1370.8 L1302.7,1369.3 L1306.4,1367.8 L1310.1,1366.2 L1313.7,1364.5 L1317.2,1362.6 L1320.7,1360.7 L1324.2,1358.7 L1327.5,1356.6 L1330.8,1354.4 L1334,1352 L1337.1,1349.6 L1340.1,1347 L1343.1,1344.3 L1345.9,1341.6 L1348.7,1338.7 L1351.4,1335.7 L1354,1332.7 L1356.5,1329.5 L1358.9,1326.3 L1361.3,1323 L1363.6,1319.7 L1365.8,1316.3 L1367.9,1312.8 L1370,1309.3 L1372,1305.7 L1373.9,1302.1 L1375.7,1298.5 L1377.4,1294.8 L1379.1,1291.2 L1380.7,1287.4 L1382.3,1283.7 L1383.8,1280 L1385.2,1276.2 L1386.6,1272.4 L1387.9,1268.6 L1389.2,1264.8 L1390.4,1261 L1391.6,1257.1 L1392.7,1253.3 L1393.8,1249.4 L1394.9,1245.5 L1395.9,1241.7 L1396.9,1237.8 L1397.9,1233.9 L1398.9,1230 L1399.9,1226.1 L1400.8,1222.2 L1401.8,1218.3 L1402.7,1214.4 L1403.6,1210.5 L1404.6,1206.6 L1405.5,1202.7 L1406.4,1198.8 L1407.3,1194.9 L1408.2,1191 L1409.1,1187.1 L1409.9,1183.2 L1410.8,1179.3 L1411.7,1175.4 L1412.6,1171.5 L1413.4,1167.5 L1414.3,1163.6 L1415.2,1159.7 L1416,1155.8 L1416.9,1151.9 L1417.7,1148 L1418.5,1144.1 L1419.4,1140.2 L1420.2,1136.3 L1421.1,1132.4 L1421.9,1128.5 L1422.8,1124.6 L1423.6,1120.6 L1424.4,1116.7 L1425.3,1112.8 L1426.1,1108.9 L1426.9,1105 L1427.8,1101.1 L1428.6,1097.2 L1429.4,1093.3 L1430.3,1089.3 L1431.1,1085.4 L1432,1081.5 L1432.8,1077.6 L1433.7,1073.7 L1434.5,1069.8 L1435.3,1065.9 L1436.2,1061.9 L1437,1058 L1437.9,1054.1 L1438.7,1050.2 L1439.5,1046.3 L1440.4,1042.3 L1441.2,1038.4 L1442,1034.5 L1442.8,1030.6 L1443.6,1026.7 L1444.4,1022.7 L1445.2,1018.8 L1446,1014.9 L1446.8,1010.9 L1447.6,1007 L1448.3,1003.1 L1449.1,999.1 L1449.9,995.2 L1450.6,991.3 L1451.3,987.3 L1452.1,983.4 L1452.8,979.5 L1453.5,975.5 L1454.2,971.6 L1454.8,967.6 L1455.5,963.7 L1456.1,959.7 L1456.8,955.8 L1457.4,951.8 L1458,947.9 L1458.6,943.9 L1459.2,940 L1459.8,936 L1460.3,932 L1460.9,928.1 L1461.4,924.1 L1462,920.1 L1462.5,916.2 L1463,912.2 L1463.5,908.2 L1464,904.2 L1464.4,900.3 L1464.9,896.3 L1465.4,892.3 L1465.8,888.3 L1466.2,884.4 L1466.7,880.4 L1467.1,876.4 L1467.5,872.4 L1467.9,868.4 L1468.3,864.4 L1468.7,860.4 L1469.1,856.5 L1469.4,852.5 L1469.8,848.5 L1470.2,844.5 L1470.5,840.5 L1470.9,836.5 L1471.2,832.5 L1471.6,828.5 L1471.9,824.5 L1472.2,820.5 L1472.5,816.5 L1472.9,812.5 L1473.2,808.5 L1473.5,804.5 L1473.8,800.5 L1474.1,796.6 L1474.4,792.6 L1474.7,788.6 L1475,784.6 L1475.2,780.6 L1475.5,776.6 L1475.8,772.6 L1476.1,768.6 L1476.4,764.6 L1476.6,760.6 L1476.9,756.6 L1477.2,752.6 L1477.5,748.6 L1477.7,744.6 L1478,740.6 L1478.3,736.6 L1478.6,732.6 L1478.8,728.6 L1479.1,724.6 L1479.4,720.6 L1479.7,716.6 L1479.9,712.6 L1480.2,708.6 L1480.5,704.6 L1480.8,700.6 L1481.1,696.6 L1481.4,692.6 L1481.6,688.6 L1481.9,684.6 L1482.2,680.6 L1482.5,676.6 L1482.8,672.6 L1483.1,668.6 L1483.5,664.6 L1483.8,660.6 L1484.1,656.7 L1484.4,652.7 L1484.8,648.7 L1485.1,644.7 L1485.4,640.7 L1485.8,636.7 L1486.1,632.7 L1486.5,628.8"/>
<polygon points="1487.5,615.5 1491.2,629.1 1481.8,628.4"/>
<path fill="none" d="M690,1371.3 L693.9,1372.2 L697.9,1373.2 L701.8,1374.1 L705.7,1375 L709.6,1375.9 L713.6,1376.8 L717.5,1377.7 L721.5,1378.5 L725.4,1379.4 L729.3,1380.3 L733.3,1381.1 L737.2,1381.9 L741.2,1382.8 L745.1,1383.6 L749.1,1384.4 L753,1385.2 L757,1386 L760.9,1386.8 L764.9,1387.6 L768.8,1388.4 L772.8,1389.2 L776.7,1390 L780.7,1390.7 L784.7,1391.5 L788.6,1392.2 L792.6,1393 L796.5,1393.7 L800.5,1394.5 L804.5,1395.2 L808.4,1395.9 L812.4,1396.6 L816.4,1397.3 L820.4,1398 L824.3,1398.7 L828.3,1399.4 L832.3,1400.1 L836.3,1400.8 L840.2,1401.4 L844.2,1402.1 L848.2,1402.8 L852.2,1403.4 L856.1,1404.1 L860.1,1404.7 L864.1,1405.4 L868.1,1406 L872.1,1406.7 L876.1,1407.3 L880,1407.9 L884,1408.5 L888,1409.1 L892,1409.8 L896,1410.4 L900,1411 L904,1411.6 L908,1412.2 L912,1412.8 L915.9,1413.4 L919.9,1413.9 L923.9,1414.5 L927.9,1415.1 L931.9,1415.7 L935.9,1416.3 L939.9,1416.8 L943.9,1417.4 L947.9,1418 L951.9,1418.5 L955.9,1419.1 L959.9,1419.6 L963.9,1420.2 L967.9,1420.8 L971.9,1421.3 L975.9,1421.9 L979.9,1422.4 L983.9,1423 L987.9,1423.5 L991.9,1424 L995.9,1424.6 L999.9,1425.1 L1003.9,1425.6 L1007.9,1426.2 L1011.9,1426.7 L1015.9,1427.3 L1019.9,1427.8 L1023.9,1428.3 L1027.9,1428.8 L1031.9,1429.4 L1035.9,1429.9 L1039.9,1430.4 L1043.9,1431 L1047.9,1431.5 L1051.9,1432 L1055.9,1432.5 L1059.9,1433.1 L1063.9,1433.6 L1067.9,1434.1 L1071.9,1434.6 L1075.9,1435.2 L1079.9,1435.7 L1083.9,1436.2 L1087.9,1436.7 L1091.9,1437.3 L1095.9,1437.8 L1099.9,1438.3 L1103.9,1438.9 L1107.9,1439.4 L1111.9,1439.9 L1115.9,1440.5 L1119.9,1441 L1123.9,1441.5 L1127.8,1442.1 L1131.8,1442.6 L1135.8,1443.2 L1139.8,1443.7 L1143.8,1444.2 L1147.8,1444.8 L1151.8,1445.3"/>
<polygon points="1165,1447 1151.2,1450 1152.4,1440.7"/>
<path fill="none" d="M656.1,1372.1 L659.3,1374.5 L662.6,1376.8 L665.9,1379.1 L669.1,1381.4 L672.5,1383.7 L675.8,1386 L679.1,1388.2 L682.5,1390.4 L685.8,1392.6 L689.2,1394.8 L692.6,1396.9 L696,1399.1 L699.5,1401.2 L702.9,1403.3 L706.4,1405.3 L709.9,1407.3 L713.3,1409.4 L716.9,1411.3 L720.4,1413.3 L723.9,1415.2 L727.5,1417.1 L731,1419 L734.6,1420.9 L738.2,1422.7 L741.8,1424.5 L745.4,1426.3 L749,1428.1 L752.7,1429.8 L756.3,1431.5 L760,1433.2 L763.7,1434.8 L767.3,1436.4 L771,1438 L774.8,1439.6 L778.5,1441.1 L782.2,1442.6 L786,1444.1 L789.7,1445.5 L793.5,1447 L797.3,1448.3 L801.1,1449.7 L804.9,1451 L808.7,1452.3 L812.5,1453.6 L816.3,1454.8 L820.1,1456 L824,1457.2 L827.8,1458.3 L831.7,1459.4 L835.6,1460.5 L839.5,1461.5 L843.4,1462.5 L847.3,1463.5 L851.2,1464.4 L855.1,1465.3 L859,1466.2 L862.9,1467 L866.9,1467.8 L870.8,1468.6"/>
<polygon points="883.8,1471.5 869.8,1473.1 871.8,1464"/>
<path fill="none" d="M640,1372.1 L642.6,1375.2 L645.1,1378.3 L647.7,1381.5 L650.2,1384.8 L652.7,1388 L655.3,1391.3 L657.8,1394.6 L660.3,1397.9 L662.8,1401.3 L665.3,1404.6 L667.8,1408 L670.3,1411.3 L672.8,1414.7 L675.3,1418 L677.8,1421.3 L680.3,1424.6 L682.8,1427.8 L685.4,1431 L687.9,1434.2 L690.5,1437.3 L693,1440.4 L695.6,1443.4 L698.3,1446.4 L700.9,1449.3 L703.5,1452.1 L706.2,1454.9 L708.9,1457.5 L711.6,1460.1 L714.4,1462.6 L717.2,1465 L720,1467.3 L723.4,1469.9 L726.8,1472.4 L730.2,1474.8 L733.7,1477.1 L737.1,1479.3 L740.6,1481.4 L744.1,1483.4 L747.6,1485.3 L751.2,1487.2 L754.7,1489 L758.3,1490.7 L762,1492.4 L765.6,1494 L769.3,1495.6 L773,1497.1 L776.8,1498.6 L780.5,1500.1 L784.4,1501.6 L788.2,1503.1 L792.1,1504.6 L796,1506 L800,1507.5 L803.6,1508.8 L807.3,1510.1 L811,1511.4 L814.8,1512.7 L818.6,1513.9 L822.4,1515.1 L826.3,1516.3 L830.2,1517.4 L834.1,1518.5 L838.1,1519.6 L842.1,1520.7 L846.1,1521.8 L850.1,1522.8 L854.1,1523.8 L858.2,1524.7 L862.2,1525.7 L866.3,1526.6 L870.4,1527.5 L874.5,1528.3 L878.5,1529.2 L882.6,1530 L886.7,1530.8 L890.7,1531.5 L894.8,1532.2 L898.8,1532.9 L902.8,1533.6 L906.8,1534.2 L910.9,1534.8 L915,1535.4 L919.1,1535.9 L923.3,1536.4 L927.4,1536.9 L931.6,1537.3 L935.7,1537.7 L939.9,1538.1 L944.1,1538.4 L948.3,1538.7 L952.5,1539 L956.6,1539.3 L960.8,1539.5 L965,1539.7 L969.1,1539.9 L973.3,1540.1 L977.4,1540.2 L981.5,1540.3 L985.6,1540.5 L989.7,1540.6 L993.7,1540.6 L997.8,1540.7 L1001.8,1540.8 L1005.7,1540.8 L1009.7,1540.9 L1013.6,1540.9 L1017.9,1540.9 L1022.3,1540.9 L1026.6,1540.9 L1030.9,1540.8 L1035.2,1540.7 L1039.5,1540.6 L1043.8,1540.4 L1048.1,1540.2 L1052.3,1540.1 L1056.5,1539.8 L1060.7,1539.6 L1064.8,1539.4 L1068.9,1539.1 L1073,1538.9 L1077,1538.6 L1081,1538.3 L1084.9,1538 L1088.8,1537.8 L1092.6,1537.5 L1096.3,1537.2 L1100,1536.9 L1104.6,1536.5 L1109.2,1536.1 L1113.6,1535.7 L1117.9,1535.2 L1122.1,1534.8 L1126.3,1534.3 L1130.4,1533.8 L1134.5,1533.3 L1138.5,1532.8 L1142.6,1532.3 L1146.7,1531.8 L1150.9,1531.3 L1155.1,1530.9"/>
<polygon points="1168.3,1529.4 1155.6,1535.5 1154.6,1526.2"/>
<path fill="none" d="M453.3,676.3 L809.6,676.3"/>
<polygon points="822.9,676.3 809.6,681 809.6,671.6"/>
<path fill="none" d="M407.7,696.4 L411.6,697.6 L415.5,698.9 L419.4,700.2 L423.2,701.6 L427,703 L430.7,704.5 L434.5,706.1 L438.2,707.7 L441.8,709.3 L445.5,711 L449.1,712.7 L452.7,714.5 L456.2,716.4 L459.8,718.2 L463.3,720.2 L466.8,722.1 L470.2,724.1 L473.7,726.2 L477.1,728.2 L480.5,730.4 L483.8,732.5 L487.2,734.7 L490.5,736.9 L493.8,739.2 L497,741.5 L500.3,743.8 L503.5,746.2 L506.7,748.6 L509.9,751 L513.1,753.4 L516.3,755.9 L519.4,758.4 L522.5,760.9 L525.6,763.5 L528.7,766 L531.8,768.6 L534.8,771.2 L537.9,773.9 L540.9,776.5 L543.9,779.2 L546.9,781.9 L549.9,784.6 L552.8,787.3 L555.8,790 L558.7,792.7 L561.6,795.5 L564.6,798.2 L567.5,801 L570.4,803.8 L573.2,806.6 L576.1,809.3 L579,812.1 L581.8,814.9 L584.7,817.7 L587.5,820.5 L590.4,823.3"/>
<polygon points="600,832.5 587.1,826.7 593.6,819.9"/>
<path fill="none" d="M374.5,696.6 L378.6,698.3 L382.7,700.1 L386.6,701.9 L390.5,703.8 L394.2,705.9 L397.9,707.9 L401.5,710.1 L405,712.4 L408.5,714.7 L411.8,717.1 L415,719.5 L418.2,722 L421.3,724.6 L424.3,727.3 L427.2,730 L430.1,732.8 L432.8,735.6 L435.5,738.5 L438.1,741.5 L440.6,744.5 L443,747.6 L445.3,750.7 L447.6,753.9 L449.8,757.1 L451.9,760.4 L453.9,763.7 L455.8,767.1 L457.7,770.5 L459.5,774 L461.2,777.5 L462.8,781 L464.4,784.6 L465.8,788.2 L467.2,791.8 L468.5,795.5 L469.8,799.2 L471,803 L472.1,806.7 L473.1,810.5 L474,814.4 L474.9,818.2 L475.7,822.1 L476.4,826 L477,829.9 L477.6,833.8 L478.1,837.8 L478.6,841.8 L478.9,845.7 L479.2,849.7 L479.4,853.7 L479.6,857.7 L479.7,861.8 L479.7,865.8 L479.7,869.8 L479.6,873.9 L479.5,877.9 L479.4,882 L479.2,886.1 L479,890.1 L478.8,894.2 L478.5,898.3 L478.2,902.3 L477.9,906.4 L477.6,910.5 L477.3,914.6 L477,918.6 L476.7,922.7 L476.5,926.8 L476.2,930.8 L475.9,934.9 L475.7,938.9 L475.5,943 L475.3,947 L475.2,951.1 L475.1,955.1 L475,959.1 L475,963.1 L475,967.1 L475.1,971.1 L475.3,975.1 L475.5,979 L475.8,983 L476.2,986.9 L476.6,990.8 L477.1,994.7 L477.7,998.6 L478.4,1002.5 L479.1,1006.3 L479.9,1010.2 L480.7,1014 L481.7,1017.8 L482.7,1021.6 L483.7,1025.4 L484.8,1029.1 L486,1032.8 L487.3,1036.6 L488.6,1040.3 L489.9,1043.9 L491.4,1047.6 L492.9,1051.2 L494.4,1054.9 L496,1058.5 L497.7,1062.1 L499.4,1065.6 L501.1,1069.2 L502.9,1072.7 L504.8,1076.2 L506.7,1079.7 L508.7,1083.1 L510.7,1086.6 L512.8,1090 L514.9,1093.4 L517.1,1096.7 L519.3,1100.1 L521.5,1103.4 L523.8,1106.7 L526.2,1110 L528.6,1113.2 L531,1116.5 L533.5,1119.7 L536,1122.9 L538.5,1126 L541.1,1129.1 L543.7,1132.2 L546.4,1135.3 L549.1,1138.4 L551.8,1141.4 L554.5,1144.4 L557.3,1147.4 L560.1,1150.3 L563,1153.2 L565.9,1156.1 L568.8,1159 L571.7,1161.8 L574.7,1164.6 L577.7,1167.4 L580.7,1170.2 L583.7,1172.9 L586.8,1175.6 L589.9,1178.2 L593,1180.9 L596.1,1183.5 L599.2,1186 L602.4,1188.6 L605.6,1191.1 L608.8,1193.5 L612,1196 L615.2,1198.4 L618.5,1200.8 L621.8,1203.2 L625,1205.5 L628.3,1207.8 L631.7,1210.1 L635,1212.3 L638.3,1214.5 L641.7,1216.7 L645.1,1218.9 L648.5,1221 L651.9,1223.2 L655.3,1225.3 L658.7,1227.3 L662.2,1229.4 L665.6,1231.4 L669.1,1233.4 L672.6,1235.4 L676,1237.3 L679.6,1239.3 L683.1,1241.2 L686.6,1243.1 L690.1,1244.9 L693.7,1246.8 L697.2,1248.6 L700.8,1250.4 L704.4,1252.2 L708,1254 L711.6,1255.8 L715.2,1257.5 L718.8,1259.2 L722.4,1260.9 L726,1262.6 L729.7,1264.3 L733.3,1266 L737,1267.6 L740.6,1269.2 L744.3,1270.8 L748,1272.5 L751.7,1274 L755.3,1275.6 L759,1277.2 L762.7,1278.7 L766.4,1280.3 L770.1,1281.8 L773.8,1283.3 L777.5,1284.9 L781.3,1286.4 L785,1287.8 L788.7,1289.3 L792.4,1290.8 L796.2,1292.3 L799.9,1293.7 L803.6,1295.2 L807.4,1296.6 L811.1,1298.1 L814.8,1299.5 L818.6,1300.9 L822.3,1302.4 L826.1,1303.8 L829.8,1305.2 L833.5,1306.6 L837.3,1308"/>
<polygon points="849.7,1312.8 835.6,1312.4 839,1303.7"/>
<path fill="none" d="M876.3,663.9 L871.8,659.7 L867.3,655.6 L865.9,651.8 L866.9,650.4 L868.8,648.9 L871.5,647.6 L875,646.3 L879,645 L883.5,643.9 L888.3,642.8 L893.4,641.8 L898.5,640.9 L903.7,640.2 L908.6,639.6 L913.4,639.1 L917.7,638.8 L921.9,638.7 L926.5,638.7 L931.4,638.8 L936.5,639.1 L941.6,639.5 L946.8,640 L951.8,640.6 L956.6,641.3 L961.1,642 L965.1,642.9 L968.6,643.7 L971.4,644.7 L973.5,645.6 L974.7,646.6 L974.8,648.6 L974.1,650.7"/>
<polygon points="972.1,663.9 969.5,650.1 978.7,651.4"/>
<path fill="none" d="M1015.1,720.2 L1018.8,718.4 L1022.4,716.5 L1026,714.6 L1029.6,712.6 L1033.1,710.5 L1036.5,708.4 L1039.9,706.2 L1043.2,704 L1046.5,701.7 L1049.7,699.4 L1052.9,697 L1056.1,694.6 L1059.1,692.1 L1062.2,689.6 L1065.2,687 L1068.1,684.4 L1071,681.7 L1073.9,679 L1076.7,676.2 L1079.5,673.4 L1082.2,670.5 L1084.9,667.6 L1087.5,664.7 L1090.1,661.7 L1092.7,658.7 L1095.2,655.7 L1097.7,652.6 L1100.1,649.5 L1102.5,646.3 L1104.9,643.1 L1107.2,639.9 L1109.5,636.6 L1111.8,633.3 L1114,630 L1116.2,626.7 L1118.4,623.3 L1120.5,619.9 L1122.6,616.5 L1124.7,613 L1126.7,609.5 L1128.7,606 L1130.7,602.5 L1132.6,599 L1134.5,595.4 L1136.4,591.8 L1138.3,588.2 L1140.1,584.6 L1141.9,581 L1143.7,577.3 L1145.5,573.6 L1147.2,569.9 L1148.9,566.2 L1150.6,562.5 L1152.2,558.8 L1153.8,555 L1155.4,551.3 L1157,547.5 L1158.6,543.7 L1160.1,539.9 L1161.6,536.1 L1163.1,532.3 L1164.6,528.5 L1166,524.7 L1167.5,520.8 L1168.9,517 L1170.3,513.1 L1171.6,509.3 L1173,505.4 L1174.3,501.6 L1175.6,497.7 L1176.9,493.8 L1178.2,490 L1179.5,486.1 L1180.7,482.2 L1182,478.3 L1183.2,474.5 L1184.4,470.6 L1185.6,466.7 L1186.7,462.9 L1187.9,459 L1189,455.1 L1190.2,451.3 L1191.3,447.4 L1192.4,443.6 L1193.5,439.7 L1194.6,435.9 L1195.7,432.1 L1196.7,428.3 L1197.8,424.5 L1198.8,420.7 L1199.9,416.9 L1200.9,413.1 L1201.9,409.3 L1202.9,405.6 L1203.9,401.9 L1204.9,398.1 L1205.9,394.4 L1206.9,390.7 L1207.8,387.1"/>
<polygon points="1209.8,373.9 1212.5,387.7 1203.2,386.4"/>
<path fill="none" d="M954,755.4 L1176.2,915.9"/>
<polygon points="1187,923.7 1173.5,919.7 1179,912.1"/>
<path fill="none" d="M667,832 L837.8,760.5"/>
<polygon points="850.1,755.4 839.6,764.8 836,756.2"/>
<path fill="none" d="M721.3,833.7 L725.2,832.9 L729.2,832.2 L733.1,831.4 L737,830.7 L741,829.9 L744.9,829.2 L748.8,828.4 L752.8,827.7 L756.7,826.9 L760.7,826.2 L764.6,825.5 L768.5,824.7 L772.5,824 L776.4,823.3 L780.4,822.5 L784.3,821.8 L788.3,821.1 L792.2,820.4 L796.1,819.6 L800.1,818.9 L804,818.2 L808,817.5 L811.9,816.7 L815.9,816 L819.8,815.3 L823.8,814.5 L827.7,813.8 L831.6,813.1 L835.6,812.4 L839.5,811.6 L843.5,810.9 L847.4,810.2 L851.4,809.4 L855.3,808.7 L859.3,807.9 L863.2,807.2 L867.1,806.5 L871.1,805.7 L875,805 L879,804.2 L882.9,803.4 L886.8,802.7 L890.8,801.9 L894.7,801.1 L898.6,800.4 L902.6,799.6 L906.5,798.8 L910.4,798 L914.4,797.2 L918.3,796.4 L922.2,795.6 L926.1,794.8 L930.1,794 L934,793.2 L937.9,792.4 L941.8,791.5 L945.7,790.7 L949.7,789.9 L953.6,789 L957.5,788.2 L961.4,787.3 L965.3,786.4 L969.2,785.6 L973.1,784.7 L977,783.8 L980.9,782.9 L984.8,782 L988.7,781.1 L992.6,780.1 L996.5,779.2 L1000.4,778.3 L1004.2,777.3 L1008.1,776.4 L1012,775.4 L1015.9,774.4 L1019.8,773.4 L1023.6,772.4 L1027.5,771.4 L1031.4,770.4 L1035.2,769.4 L1039.1,768.4 L1042.9,767.3 L1046.8,766.3 L1050.6,765.2 L1054.5,764.1 L1058.3,763 L1062.2,761.9 L1066,760.8 L1069.8,759.7 L1073.7,758.5 L1077.5,757.4 L1081.3,756.3 L1085.2,755.1 L1089,753.9 L1092.8,752.7 L1096.6,751.5 L1100.4,750.3 L1104.2,749.1 L1108,747.9 L1111.8,746.7 L1115.6,745.4 L1119.4,744.2 L1123.2,742.9 L1127,741.7 L1130.8,740.4 L1134.6,739.1 L1138.4,737.8 L1142.2,736.5 L1145.9,735.2 L1149.7,733.9 L1153.5,732.6 L1157.3,731.3 L1161,729.9 L1164.8,728.6 L1168.6,727.2 L1172.3,725.9 L1176.1,724.5 L1179.9,723.1 L1183.6,721.7 L1187.4,720.3 L1191.1,718.9 L1194.9,717.5 L1198.6,716.1 L1202.4,714.7 L1206.1,713.3 L1209.8,711.8 L1213.6,710.4 L1217.3,708.9 L1221.1,707.5 L1224.8,706 L1228.5,704.6 L1232.3,703.1 L1236,701.6 L1239.7,700.2 L1243.5,698.7 L1247.2,697.2 L1250.9,695.7 L1254.6,694.2 L1258.4,692.8 L1262.1,691.3 L1265.8,689.8 L1269.5,688.3 L1273.2,686.8 L1277,685.3 L1280.7,683.8 L1284.4,682.3 L1288.1,680.8 L1291.8,679.3 L1295.6,677.8 L1299.3,676.2 L1303,674.7 L1306.7,673.2 L1310.4,671.7 L1314.2,670.2 L1317.9,668.7 L1321.6,667.2 L1325.3,665.7 L1329.1,664.3 L1332.8,662.8 L1336.5,661.3 L1340.2,659.8 L1344,658.3 L1347.7,656.8 L1351.4,655.4 L1355.1,653.9 L1358.9,652.4 L1362.6,651 L1366.3,649.5 L1370.1,648 L1373.8,646.6 L1377.6,645.2 L1381.3,643.7 L1385.1,642.3 L1388.8,640.9 L1392.5,639.5 L1396.3,638.1 L1400,636.7 L1403.8,635.3 L1407.6,633.9 L1411.3,632.5 L1415.1,631.1 L1418.8,629.8 L1422.6,628.4 L1426.4,627.1 L1430.2,625.8 L1433.9,624.5 L1437.7,623.1 L1441.5,621.8 L1445.3,620.6 L1449.1,619.3"/>
<polygon points="1461.6,614.8 1450.6,623.7 1447.5,614.9"/>
<path fill="none" d="M721.3,852.6 L811.7,852.6"/>
<polygon points="825,852.6 811.7,857.3 811.7,847.9"/>
<path fill="none" d="M716.2,872.9 L720.3,873.8 L724.7,874.8 L729.4,875.9 L734.2,877 L739.2,878.1 L744.3,879.3 L749.5,880.5 L754.7,881.7 L760,883 L765.3,884.2 L770.5,885.4 L775.7,886.6 L780.7,887.8 L785.6,888.9 L790.3,890 L794.8,891 L799,891.9 L802.9,892.8 L806.5,893.5 L809.8,894.2 L812.6,894.8 L815.1,895.2 L817,895.5 L818.5,895.7 L819.4,895.7 L819.8,895.6 L817.4,894.1 L813.2,892.2"/>
<polygon points="825,898.3 811,896.3 815.3,888"/>
<path fill="none" d="M653,872.9 L656.5,875 L660.1,877 L663.6,879.1 L667.1,881.2 L670.7,883.2 L674.2,885.2 L677.8,887.2 L681.4,889.2 L684.9,891.2 L688.5,893.2 L692.1,895.2 L695.7,897.1 L699.3,899.1 L702.9,901 L706.5,902.9 L710.1,904.8 L713.7,906.7 L717.3,908.6 L720.9,910.5 L724.6,912.3 L728.2,914.2 L731.9,916 L735.5,917.9 L739.2,919.7 L742.8,921.5 L746.5,923.3 L750.2,925.1 L753.8,926.9 L757.5,928.6 L761.2,930.4 L764.9,932.1 L768.6,933.8 L772.3,935.5 L776,937.3 L779.7,938.9 L783.5,940.6 L787.2,942.3 L790.9,944 L794.6,945.6 L798.4,947.2 L802.1,948.9 L805.9,950.5 L809.7,952.1 L813.4,953.7 L817.2,955.3 L821,956.8 L824.8,958.4"/>
<polygon points="836.9,963.8 822.9,962.6 826.7,954.1"/>
<path fill="none" d="M642.2,873.1 L645,876.1 L647.8,879 L650.5,882 L653.3,885 L656,888 L658.7,891 L661.4,894 L664.1,897 L666.8,900.1 L669.4,903.1 L672.1,906.1 L674.7,909.2 L677.3,912.3 L679.9,915.3 L682.4,918.4 L685,921.5 L687.6,924.6 L690.1,927.7 L692.6,930.8 L695.1,933.9 L697.6,937.1 L700.1,940.2 L702.5,943.3 L705,946.5 L707.4,949.7 L709.8,952.8 L712.2,956 L714.6,959.2 L717,962.4 L719.4,965.7 L721.7,968.9 L724.1,972.1 L726.4,975.4 L728.7,978.6 L731,981.9 L733.3,985.2 L735.5,988.5 L737.8,991.8 L740.1,995.1 L742.3,998.4 L744.5,1001.7 L746.7,1005.1 L748.9,1008.4 L751.1,1011.8 L753.3,1015.2 L755.5,1018.5 L757.6,1021.9 L759.7,1025.4 L761.9,1028.8 L764,1032.2 L766.1,1035.7 L768.2,1039.1 L770.4,1042.5 L772.5,1045.9 L774.7,1049.2 L777,1052.5 L779.4,1055.6 L781.9,1058.7 L784.5,1061.6 L787.3,1064.4 L790.2,1067 L793.2,1069.5 L796.5,1071.8 L800,1073.8 L803.6,1075.7 L807.6,1077.3 L811.7,1078.6"/>
<polygon points="824.3,1083 810.2,1083 813.3,1074.2"/>
<path fill="none" d="M660.3,1015.3 L663.8,1013.3 L667.3,1011.2 L670.8,1009.2 L674.3,1007.3 L677.9,1005.3 L681.4,1003.3 L684.9,1001.4 L688.5,999.5 L692.1,997.6 L695.6,995.7 L699.2,993.9 L702.8,992 L706.4,990.2 L710,988.4 L713.6,986.6 L717.2,984.9 L720.9,983.1 L724.5,981.4 L728.1,979.7 L731.8,978 L735.5,976.3 L739.1,974.6 L742.8,973 L746.5,971.3 L750.2,969.7 L753.9,968.1 L757.6,966.6 L761.3,965 L765,963.5 L768.8,962 L772.5,960.5 L776.3,959 L780,957.5 L783.8,956.1 L787.6,954.6 L791.4,953.2 L795.2,951.8 L799,950.5 L802.8,949.1 L806.6,947.8 L810.4,946.4 L814.2,945.1 L818.1,943.9 L821.9,942.6"/>
<polygon points="834.3,937.7 823.7,946.9 820.2,938.3"/>
<path fill="none" d="M722,1035.3 L814.7,1035.3"/>
<polygon points="828,1035.3 814.7,1040 814.7,1030.6"/>
<path fill="none" d="M654.6,1055 L658,1057.3 L661.4,1059.5 L664.7,1061.7 L668.1,1064 L671.5,1066.2 L675,1068.4 L678.4,1070.6 L681.8,1072.7 L685.3,1074.9 L688.7,1077 L692.2,1079.2 L695.7,1081.3 L699.2,1083.4 L702.7,1085.5 L706.2,1087.6 L709.7,1089.6 L713.2,1091.7 L716.8,1093.7 L720.3,1095.7 L723.9,1097.7 L727.4,1099.7 L731,1101.7 L734.6,1103.6 L738.2,1105.5 L741.8,1107.4 L745.4,1109.3 L749,1111.2 L752.7,1113 L756.3,1114.8 L760,1116.6 L763.6,1118.4 L767.3,1120.2 L771,1121.9 L774.7,1123.6 L778.4,1125.3 L782.1,1126.9 L785.8,1128.6 L789.5,1130.2 L793.3,1131.8 L797,1133.3 L800.8,1134.9 L804.6,1136.4 L808.3,1137.8 L812.1,1139.3 L815.9,1140.7"/>
<polygon points="828.5,1145.1 814.4,1145.1 817.5,1136.3"/>
<path fill="none" d="M647.8,1055 L650.6,1057.9 L653.4,1060.7 L656.2,1063.5 L659.1,1066.3 L662,1069 L665,1071.8 L668,1074.4 L671,1077.1 L674,1079.8 L677,1082.4 L680,1085 L683.1,1087.6 L686.1,1090.3 L689.2,1092.9 L692.2,1095.5 L695.3,1098.1 L698.3,1100.7 L701.3,1103.3 L704.4,1106 L707.4,1108.6 L710.4,1111.3 L713.3,1114 L716.3,1116.7 L719.2,1119.5 L722,1122.3 L724.9,1125.1 L727.7,1127.9 L730.5,1130.8 L733.2,1133.8 L735.9,1136.8 L738.5,1139.8 L741.1,1142.9 L743.6,1146 L746.1,1149.2 L748.6,1152.4 L751,1155.6 L753.5,1158.8 L755.9,1162 L758.4,1165.1 L760.9,1168.3 L763.4,1171.4 L766,1174.4 L768.6,1177.4 L771.3,1180.3 L774,1183.1 L776.8,1185.9 L779.7,1188.5 L782.7,1191.1 L785.8,1193.5 L788.9,1195.9 L792.1,1198.2 L795.4,1200.4 L798.7,1202.5 L802.1,1204.6 L805.6,1206.5 L809.1,1208.5 L812.6,1210.3 L816.2,1212.1 L819.8,1213.8 L823.5,1215.5 L827.2,1217.2 L830.9,1218.8 L834.6,1220.3 L838.4,1221.9 L842.2,1223.4 L846,1224.8 L849.8,1226.3 L853.6,1227.7 L857.4,1229.1 L861.2,1230.5 L865,1231.8 L868.8,1233.2 L872.6,1234.5 L876.4,1235.9 L880.2,1237.2 L884,1238.5 L887.8,1239.8 L891.6,1241.1 L895.4,1242.4 L899.2,1243.6 L903,1244.9 L906.8,1246.1 L910.6,1247.3 L914.4,1248.6 L918.2,1249.8 L922,1250.9 L925.9,1252.1 L929.7,1253.3 L933.5,1254.5 L937.3,1255.6 L941.1,1256.7 L945,1257.9 L948.8,1259 L952.6,1260.1 L956.5,1261.2 L960.3,1262.2 L964.2,1263.3 L968,1264.4 L971.9,1265.4 L975.8,1266.4 L979.7,1267.5 L983.6,1268.5 L987.5,1269.5 L991.4,1270.5 L995.3,1271.4 L999.2,1272.4 L1003.2,1273.4 L1007.1,1274.3 L1011.1,1275.2 L1015.1,1276.1 L1019,1277 L1023,1277.9 L1027,1278.7 L1031,1279.5 L1035,1280.3 L1039,1281 L1043,1281.7 L1046.9,1282.3 L1050.9,1282.9 L1054.9,1283.4 L1058.9,1283.9 L1062.9,1284.3 L1066.9,1284.7 L1070.9,1285 L1074.9,1285.2 L1078.8,1285.3 L1082.8,1285.4 L1086.8,1285.4 L1090.7,1285.3 L1094.6,1285.1 L1098.6,1284.9 L1102.5,1284.5 L1106.4,1284.1 L1110.3,1283.6 L1114.2,1283 L1118.1,1282.4 L1122,1281.7 L1125.9,1280.9 L1129.7,1280.1 L1133.6,1279.3 L1137.5,1278.3 L1141.3,1277.4 L1145.2,1276.4 L1149.1,1275.4 L1152.9,1274.3 L1156.8,1273.2 L1160.7,1272.1 L1164.5,1270.9 L1168.4,1269.8 L1172.3,1268.6 L1176.1,1267.4 L1180,1266.2 L1183.9,1265 L1187.8,1263.8 L1191.6,1262.5 L1195.5,1261.3 L1199.4,1260 L1203.3,1258.8 L1207.1,1257.5 L1211,1256.2 L1214.8,1254.8 L1218.7,1253.5 L1222.5,1252.1 L1226.3,1250.7 L1230.2,1249.3 L1234,1247.8 L1237.7,1246.4 L1241.5,1244.9 L1245.3,1243.3 L1249,1241.8 L1252.7,1240.2 L1256.4,1238.6 L1260.1,1236.9 L1263.8,1235.2 L1267.4,1233.5 L1271,1231.7 L1274.6,1229.9 L1278.2,1228.1 L1281.7,1226.2 L1285.2,1224.3 L1288.7,1222.3 L1292.2,1220.3 L1295.6,1218.3 L1299,1216.2 L1302.3,1214 L1305.7,1211.8 L1308.9,1209.6 L1312.2,1207.3 L1315.4,1205 L1318.6,1202.6 L1321.7,1200.1 L1324.8,1197.6 L1327.8,1195.1 L1330.8,1192.5 L1333.8,1189.8 L1336.7,1187.1 L1339.6,1184.3 L1342.4,1181.4 L1345.1,1178.5 L1347.8,1175.6 L1350.5,1172.5 L1353,1169.5 L1355.5,1166.3 L1358,1163.1 L1360.3,1159.9 L1362.5,1156.5 L1364.7,1153.2 L1366.8,1149.8 L1368.8,1146.3 L1370.7,1142.8 L1372.6,1139.3 L1374.4,1135.7 L1376.1,1132.1 L1377.9,1128.4 L1379.5,1124.8 L1381.2,1121.1 L1382.8,1117.4 L1384.4,1113.7 L1386,1110 L1387.6,1106.3 L1389.2,1102.6 L1390.8,1099 L1392.4,1095.3 L1394,1091.6 L1395.5,1087.9 L1397.1,1084.2 L1398.6,1080.5 L1400.1,1076.8 L1401.6,1073 L1403,1069.3 L1404.4,1065.6 L1405.7,1061.8 L1407.1,1058.1 L1408.3,1054.3 L1409.5,1050.5 L1410.7,1046.7 L1411.9,1042.8 L1413,1039 L1414,1035.2 L1415.1,1031.3 L1416.1,1027.4 L1417,1023.6 L1418,1019.7 L1418.9,1015.8 L1419.8,1011.9 L1420.6,1008 L1421.5,1004 L1422.3,1000.1 L1423.1,996.2 L1423.9,992.3 L1424.7,988.3 L1425.5,984.4 L1426.3,980.4 L1427,976.5 L1427.8,972.6 L1428.5,968.6 L1429.3,964.7 L1430,960.7 L1430.8,956.8 L1431.5,952.8 L1432.3,948.9 L1433.1,944.9 L1433.8,941 L1434.6,937.1 L1435.4,933.1 L1436.1,929.2 L1436.9,925.3 L1437.7,921.3 L1438.5,917.4 L1439.2,913.5 L1440,909.5 L1440.8,905.6 L1441.6,901.7 L1442.3,897.7 L1443.1,893.8 L1443.9,889.9 L1444.7,885.9 L1445.4,882 L1446.2,878.1 L1447,874.1 L1447.8,870.2 L1448.5,866.3 L1449.3,862.4 L1450.1,858.4 L1450.8,854.5 L1451.6,850.6 L1452.4,846.6 L1453.1,842.7 L1453.9,838.8 L1454.6,834.8 L1455.4,830.9 L1456.1,827 L1456.9,823 L1457.6,819.1 L1458.3,815.2 L1459.1,811.2 L1459.8,807.3 L1460.5,803.4 L1461.2,799.4 L1461.9,795.5 L1462.6,791.6 L1463.3,787.6 L1464,783.7 L1464.7,779.7 L1465.4,775.8 L1466.1,771.9 L1466.7,767.9 L1467.4,764 L1468.1,760 L1468.7,756.1 L1469.3,752.1 L1470,748.2 L1470.6,744.2 L1471.2,740.3 L1471.8,736.3 L1472.4,732.3 L1473,728.4 L1473.6,724.4 L1474.2,720.5 L1474.7,716.5 L1475.3,712.5 L1475.9,708.6 L1476.4,704.6 L1476.9,700.6 L1477.4,696.6 L1477.9,692.7 L1478.4,688.7 L1478.9,684.7 L1479.4,680.7 L1479.9,676.7 L1480.3,672.7 L1480.8,668.7 L1481.2,664.7 L1481.6,660.7 L1482,656.7 L1482.4,652.7 L1482.8,648.7 L1483.2,644.7 L1483.5,640.7 L1483.9,636.7 L1484.2,632.7 L1484.5,628.7"/>
<polygon points="1486.4,615.5 1489.1,629.3 1479.9,628"/>
<path fill="none" d="M1002.4,1015.3 L1146.3,968.9"/>
<polygon points="1159,964.8 1147.8,973.3 1144.9,964.4"/>
<path fill="none" d="M1015.5,1022.4 L1019.2,1020.3 L1022.8,1018.2 L1026.3,1015.9 L1029.7,1013.6 L1032.9,1011.2 L1036.1,1008.7 L1039.2,1006.2 L1042.1,1003.6 L1045,1000.9 L1047.8,998.1 L1050.5,995.3 L1053.1,992.4 L1055.6,989.5 L1058,986.4 L1060.3,983.4 L1062.6,980.2 L1064.8,977 L1066.9,973.8 L1068.9,970.5 L1070.8,967.2 L1072.7,963.8 L1074.5,960.3 L1076.3,956.9 L1078,953.3 L1079.6,949.8 L1081.2,946.2 L1082.7,942.5 L1084.1,938.8 L1085.5,935.1 L1086.9,931.4 L1088.2,927.6 L1089.5,923.8 L1090.7,920 L1091.9,916.1 L1093,912.3 L1094.1,908.4 L1095.2,904.5 L1096.2,900.5 L1097.2,896.6 L1098.2,892.6 L1099.1,888.7 L1100,884.7 L1101,880.7 L1101.8,876.7 L1102.7,872.7 L1103.6,868.7 L1104.4,864.7 L1105.2,860.8 L1106.1,856.8 L1106.9,852.8 L1107.7,848.8 L1108.5,844.8 L1109.3,840.9 L1110.1,836.9 L1110.8,832.9 L1111.6,828.9 L1112.4,825 L1113.1,821 L1113.9,817 L1114.7,813.1 L1115.4,809.1 L1116.2,805.2 L1116.9,801.2 L1117.7,797.3 L1118.4,793.3 L1119.2,789.4 L1119.9,785.4 L1120.7,781.5 L1121.5,777.6 L1122.2,773.6 L1123,769.7 L1123.7,765.8 L1124.5,761.8 L1125.3,757.9 L1126.1,754 L1126.9,750.1 L1127.7,746.2 L1128.5,742.2 L1129.3,738.3 L1130.1,734.4 L1130.9,730.5 L1131.7,726.6 L1132.6,722.7 L1133.4,718.8 L1134.3,714.9 L1135.2,711 L1136,707.1 L1136.9,703.2 L1137.8,699.3 L1138.7,695.4 L1139.6,691.5 L1140.6,687.7 L1141.5,683.8 L1142.4,679.9 L1143.3,676 L1144.3,672.1 L1145.2,668.2 L1146.2,664.4 L1147.1,660.5 L1148.1,656.6 L1149,652.7 L1150,648.8 L1151,645 L1152,641.1 L1152.9,637.2 L1153.9,633.3 L1154.9,629.5 L1155.9,625.6 L1156.8,621.7 L1157.8,617.9 L1158.8,614 L1159.8,610.1 L1160.8,606.2 L1161.8,602.4 L1162.8,598.5 L1163.8,594.6 L1164.7,590.7 L1165.7,586.9 L1166.7,583 L1167.7,579.1 L1168.7,575.2 L1169.7,571.4 L1170.6,567.5 L1171.6,563.6 L1172.6,559.7 L1173.5,555.9 L1174.5,552 L1175.5,548.1 L1176.4,544.2 L1177.4,540.3 L1178.3,536.4 L1179.3,532.6 L1180.2,528.7 L1181.1,524.8 L1182.1,520.9 L1183,517 L1183.9,513.1 L1184.8,509.2 L1185.7,505.3 L1186.6,501.4 L1187.5,497.5 L1188.3,493.6 L1189.2,489.7 L1190.1,485.8 L1190.9,481.9 L1191.7,477.9 L1192.6,474 L1193.4,470.1 L1194.2,466.2 L1195,462.3 L1195.8,458.3 L1196.6,454.4 L1197.3,450.5 L1198.1,446.5 L1198.8,442.6 L1199.6,438.6 L1200.3,434.7 L1201,430.7 L1201.7,426.8 L1202.4,422.8 L1203,418.9 L1203.7,414.9 L1204.3,410.9 L1204.9,407 L1205.6,403 L1206.1,399 L1206.7,395 L1207.3,391 L1207.8,387.1"/>
<polygon points="1209.8,373.9 1212.5,387.7 1203.2,386.4"/>
<path fill="none" d="M1019.3,1100.7 L1083.9,1100.7"/>
<polygon points="1097.2,1100.7 1083.9,1105.4 1083.9,1096"/>
<path fill="none" d="M1015,1145 L1143.5,1116.3"/>
<polygon points="1156.5,1113.4 1144.5,1120.9 1142.5,1111.7"/>
<path fill="none" d="M1015.5,1166 L1173.6,1166"/>
<polygon points="1186.9,1166 1173.6,1170.7 1173.6,1161.3"/>
<path fill="none" d="M1231,1087.6 L1234.2,1085.1 L1237.5,1082.7 L1240.6,1080.2 L1243.8,1077.6 L1246.9,1075.1 L1250,1072.5 L1253.1,1069.9 L1256.1,1067.2 L1259.1,1064.6 L1262.1,1061.9 L1265.1,1059.2 L1268,1056.4 L1270.9,1053.7 L1273.7,1050.9 L1276.6,1048.1 L1279.4,1045.3 L1282.2,1042.4 L1284.9,1039.6 L1287.6,1036.7 L1290.3,1033.7 L1293,1030.8 L1295.7,1027.8 L1298.3,1024.9 L1300.9,1021.9 L1303.5,1018.8 L1306,1015.8 L1308.5,1012.7 L1311,1009.6 L1313.5,1006.5 L1316,1003.4 L1318.4,1000.3 L1320.8,997.1 L1323.2,993.9 L1325.5,990.7 L1327.9,987.5 L1330.2,984.3 L1332.5,981.1 L1334.7,977.8 L1337,974.5 L1339.2,971.2 L1341.4,967.9 L1343.6,964.6 L1345.8,961.2 L1347.9,957.9 L1350,954.5 L1352.1,951.1 L1354.2,947.7 L1356.3,944.3 L1358.3,940.9 L1360.3,937.4 L1362.3,934 L1364.3,930.5 L1366.3,927 L1368.2,923.5 L1370.2,920 L1372.1,916.5 L1374,912.9 L1375.9,909.4 L1377.7,905.8 L1379.6,902.3 L1381.4,898.7 L1383.2,895.1 L1385,891.5 L1386.8,887.9 L1388.6,884.3 L1390.3,880.7 L1392.1,877.1 L1393.8,873.4 L1395.5,869.8 L1397.2,866.1 L1398.9,862.5 L1400.6,858.8 L1402.2,855.1 L1403.9,851.4 L1405.5,847.7 L1407.1,844 L1408.7,840.3 L1410.3,836.6 L1411.9,832.9 L1413.5,829.2 L1415,825.5 L1416.6,821.7 L1418.1,818 L1419.7,814.3 L1421.2,810.5 L1422.7,806.8 L1424.2,803 L1425.6,799.3 L1427.1,795.5 L1428.6,791.8 L1430,788 L1431.5,784.2 L1432.9,780.4 L1434.3,776.7 L1435.7,772.9 L1437.1,769.1 L1438.5,765.3 L1439.9,761.5 L1441.2,757.8 L1442.6,754 L1443.9,750.2 L1445.2,746.4 L1446.6,742.6 L1447.9,738.8 L1449.2,735 L1450.5,731.2 L1451.7,727.4 L1453,723.6 L1454.3,719.7 L1455.5,715.9 L1456.7,712.1 L1458,708.3 L1459.2,704.5 L1460.4,700.7 L1461.6,696.9 L1462.8,693.1 L1464,689.3 L1465.1,685.4 L1466.3,681.6 L1467.4,677.8 L1468.6,674 L1469.7,670.2 L1470.8,666.4 L1471.9,662.6 L1473,658.8 L1474.1,655 L1475.2,651.2 L1476.3,647.4 L1477.3,643.6 L1478.4,639.8 L1479.4,636 L1480.5,632.2 L1481.5,628.4"/>
<polygon points="1484.9,615.5 1486,629.6 1477,627.2"/>
<path fill="none" d="M1550.6,589.2 L1690.6,558.8"/>
<polygon points="1703.6,556 1691.6,563.4 1689.6,554.3"/>
<path fill="none" d="M1603,602 L1678.3,602"/>
<polygon points="1691.6,602 1678.3,606.7 1678.3,597.3"/>
<path fill="none" d="M1550.6,614.8 L1690.6,644.3"/>
<polygon points="1703.6,647 1689.6,648.8 1691.5,639.7"/>
<path fill="none" d="M1514.4,614.8 L1518,616.6 L1521.6,618.5 L1525.2,620.4 L1528.8,622.3 L1532.4,624.2 L1535.9,626.2 L1539.5,628.1 L1543.1,630.1 L1546.7,632.1 L1550.2,634.1 L1553.8,636.1 L1557.3,638.1 L1560.9,640.2 L1564.4,642.2 L1568,644.2 L1571.6,646.2 L1575.1,648.2 L1578.7,650.3 L1582.3,652.3 L1585.9,654.3 L1589.4,656.3 L1593,658.2 L1596.6,660.2 L1600.2,662.1 L1603.8,664 L1607.5,665.9 L1611.1,667.8 L1614.7,669.7 L1618.4,671.5 L1622.1,673.3 L1625.7,675.1 L1629.4,676.8 L1633.2,678.5 L1636.9,680.2 L1640.6,681.8 L1644.4,683.4 L1648.1,685 L1651.9,686.5 L1655.8,687.9 L1659.6,689.3 L1663.4,690.7 L1667.3,692 L1671.2,693.2 L1675.1,694.4 L1679.1,695.6"/>
<polygon points="1691.6,700 1677.5,700 1680.6,691.2"/>
<path fill="none" d="M1857.8,543.4 L1910.3,543.4"/>
<polygon points="1923.6,543.4 1910.3,548.1 1910.3,538.7"/>
<path fill="none" d="M1829,556 L1943.5,578.2"/>
<polygon points="1956.6,580.7 1942.7,582.8 1944.4,573.6"/>
<path fill="none" d="M1834.5,719.3 L1921.2,719.3"/>
<polygon points="1934.5,719.3 1921.2,724 1921.2,714.6"/>
<path fill="none" d="M2103.2,555.9 L2106.6,558.2 L2109.9,560.5 L2113.1,562.9 L2116.3,565.4 L2119.5,567.9 L2122.6,570.4 L2125.6,573 L2128.6,575.7 L2131.6,578.4 L2134.4,581.1 L2137.3,583.9 L2140.1,586.7 L2142.8,589.6 L2145.5,592.5 L2148.1,595.4 L2150.7,598.4 L2153.3,601.4 L2155.8,604.5 L2158.2,607.6 L2160.6,610.8 L2163,613.9 L2165.3,617.1 L2167.6,620.4 L2169.8,623.7 L2172,627 L2174.1,630.3 L2176.2,633.7 L2178.2,637.1 L2180.3,640.6 L2182.2,644 L2184.2,647.5 L2186,651 L2187.9,654.6 L2189.7,658.2 L2191.5,661.8 L2193.2,665.4 L2194.9,669 L2196.6,672.7 L2198.2,676.4 L2199.8,680.1 L2201.3,683.8 L2202.8,687.6 L2204.3,691.3 L2205.7,695.1 L2207.2,698.9 L2208.5,702.7 L2209.9,706.5 L2211.2,710.4 L2212.5,714.2 L2213.7,718.1 L2214.9,721.9 L2216.1,725.8 L2217.3,729.7 L2218.4,733.6 L2219.5,737.5 L2220.6,741.5 L2221.6,745.4 L2222.6,749.3 L2223.6,753.2 L2224.6,757.2 L2225.5,761.1 L2226.4,765 L2227.3,769 L2228.2,772.9 L2229,776.9 L2229.8,780.8 L2230.6,784.7 L2231.4,788.7 L2232.1,792.6 L2232.9,796.5 L2233.6,800.4 L2234.3,804.3 L2234.9,808.3 L2235.6,812.1 L2236.2,816 L2236.8,819.9 L2237.4,823.8 L2238,827.6 L2238.5,831.5 L2239,835.3 L2239.6,839.1 L2240.1,842.9 L2240.6,846.7 L2241,850.5 L2241.5,854.2 L2242,857.9"/>
<polygon points="2242.9,871.2 2237.3,858.3 2246.6,857.6"/>
<path fill="none" d="M1037.4,1325.9 L1126,1325.9"/>
<polygon points="1139.3,1325.9 1126,1330.6 1126,1321.2"/>
<path fill="none" d="M959.7,1475.2 L1151.8,1457.6"/>
<polygon points="1165,1456.4 1152.2,1462.3 1151.3,1453"/>
<path fill="none" d="M959.7,1483.5 L1155.2,1513.6"/>
<polygon points="1168.3,1515.6 1154.4,1518.2 1155.9,1509"/>
<path fill="none" d="M1264,1452.7 L1423.1,1452.7"/>
<polygon points="1436.4,1452.7 1423.1,1457.4 1423.1,1448"/>
<path fill="none" d="M1260.4,1520.3 L1423.1,1517"/>
<polygon points="1436.4,1516.7 1423.2,1521.6 1423,1512.3"/>
<path fill="none" d="M1260.4,1529.4 L1423.3,1556.1"/>
<polygon points="1436.4,1558.3 1422.5,1560.8 1424,1551.5"/>
</g>
<rect x="5.4" y="429.8" width="161.1" height="40.1" fill="#bfbfbf" stroke="#000000" stroke-width="1.3"/>
<text x="17.2" y="445.9" textLength="138.4" lengthAdjust="spacingAndGlyphs">learn_commandscript</text>
<text x="34.3" y="460.6" textLength="104.1" lengthAdjust="spacingAndGlyphs">::GetCommands</text>
<rect x="814.6" y="5.8" width="214.5" height="40" fill="#ffffff" stroke="#000000" stroke-width="1.3"/>
<text x="826.3" y="21.8" textLength="138.3" lengthAdjust="spacingAndGlyphs">learn_commandscript</text>
<text x="826.3" y="36.5" textLength="191.8" lengthAdjust="spacingAndGlyphs">::HandleLearnAllGMCommand</text>
<rect x="1115.2" y="13.4" width="198.6" height="25" fill="#ffffff" stroke="#000000" stroke-width="1.3"/>
<text x="1127" y="29.1" textLength="175.9" lengthAdjust="spacingAndGlyphs">SpellInfo::IsAbilityOfSkillType</text>
<rect x="808.4" y="71.4" width="226.6" height="39.6" fill="#ffffff" stroke="#000000" stroke-width="1.3"/>
<text x="820.2" y="87" textLength="136.2" lengthAdjust="spacingAndGlyphs">learn_commandscript</text>
<text x="820.2" y="101.7" textLength="203.9" lengthAdjust="spacingAndGlyphs">::HandleLearnSkillRecipesHelper</text>
<rect x="1405.5" y="107.9" width="171.7" height="25.3" fill="#ffffff" stroke="#000000" stroke-width="1.3"/>
<text x="1417.2" y="123.9" textLength="149" lengthAdjust="spacingAndGlyphs">SpellInfo::IsLootCrafting</text>
<rect x="1691.6" y="107.6" width="143.4" height="25.8" fill="#ffffff" stroke="#000000" stroke-width="1.3"/>
<text x="1703.3" y="124.1" textLength="120.7" lengthAdjust="spacingAndGlyphs">SpellInfo::GetEffect</text>
<rect x="1136.4" y="137.7" width="155.9" height="24.5" fill="#ffffff" stroke="#000000" stroke-width="1.3"/>
<text x="1148.2" y="152.9" textLength="133.2" lengthAdjust="spacingAndGlyphs">SpellMgr::IsSpellValid</text>
<rect x="1405.5" y="159.6" width="171.2" height="39.2" fill="#ffffff" stroke="#000000" stroke-width="1.3"/>
<text x="1417.2" y="174.8" textLength="148.5" lengthAdjust="spacingAndGlyphs">SpellInfo::GetEffectsFor</text>
<text x="1463.1" y="189.5" textLength="56.9" lengthAdjust="spacingAndGlyphs">Difficulty</text>
<rect x="794.6" y="189.1" width="254.5" height="39" fill="#ffffff" stroke="#000000" stroke-width="1.3"/>
<text x="806.3" y="204.1" textLength="137.1" lengthAdjust="spacingAndGlyphs">learn_commandscript</text>
<text x="806.3" y="218.8" textLength="231.8" lengthAdjust="spacingAndGlyphs">::HandleLearnAllMyTalentsCommand</text>
<rect x="1123.3" y="246.6" width="182.7" height="25" fill="#ffffff" stroke="#000000" stroke-width="1.3"/>
<text x="1135.1" y="262.3" textLength="160" lengthAdjust="spacingAndGlyphs">ChatHandler::GetSession</text>
<rect x="501.3" y="253.9" width="244.9" height="39.7" fill="#ffffff" stroke="#000000" stroke-width="1.3"/>
<text x="513" y="269.6" textLength="137.9" lengthAdjust="spacingAndGlyphs">learn_commandscript</text>
<text x="513" y="284.3" textLength="222.2" lengthAdjust="spacingAndGlyphs">::HandleLearnAllMyClassCommand</text>
<rect x="797.2" y="254.5" width="249.4" height="39.4" fill="#ffffff" stroke="#000000" stroke-width="1.3"/>
<text x="809" y="269.9" textLength="138.1" lengthAdjust="spacingAndGlyphs">learn_commandscript</text>
<text x="809" y="284.6" textLength="226.7" lengthAdjust="spacingAndGlyphs">::HandleLearnAllMySpellsCommand</text>
<rect x="1126.6" y="348" width="176.1" height="25.1" fill="#ffffff" stroke="#000000" stroke-width="1.3"/>
<text x="1138.3" y="363.8" textLength="153.4" lengthAdjust="spacingAndGlyphs">WorldSession::GetPlayer</text>
<rect x="810" y="371.6" width="224.1" height="39.4" fill="#ffffff" stroke="#000000" stroke-width="1.3"/>
<text x="821.8" y="387" textLength="137.9" lengthAdjust="spacingAndGlyphs">learn_commandscript</text>
<text x="821.8" y="401.7" textLength="201.4" lengthAdjust="spacingAndGlyphs">::HandleLearnAllLangCommand</text>
<rect x="218.4" y="429.9" width="230.9" height="39.8" fill="#ffffff" stroke="#000000" stroke-width="1.3"/>
<text x="230.2" y="445.7" textLength="138" lengthAdjust="spacingAndGlyphs">learn_commandscript</text>
<text x="230.2" y="460.4" textLength="208.2" lengthAdjust="spacingAndGlyphs">::HandleLearnAllCraftsCommand</text>
<rect x="885.5" y="538.6" width="72.8" height="25.5" fill="#ffffff" stroke="#000000" stroke-width="1.3"/>
<text x="897.2" y="554.8" textLength="50.1" lengthAdjust="spacingAndGlyphs">G3D::all</text>
<rect x="1668.7" y="530.8" width="189.1" height="25.1" fill="#ffffff" stroke="#ff0000" stroke-width="1.3"/>
<text x="1680.5" y="546.6" textLength="166.4" lengthAdjust="spacingAndGlyphs">WorldSession::SendPacket</text>
<rect x="1923.6" y="530.8" width="198.9" height="25.1" fill="#ffffff" stroke="#ff0000" stroke-width="1.3"/>
<text x="1935.3" y="546.6" textLength="176.2" lengthAdjust="spacingAndGlyphs">WorldSession::GetPlayerInfo</text>
<rect x="534.5" y="582.2" width="178.8" height="39.7" fill="#ffffff" stroke="#000000" stroke-width="1.3"/>
<text x="546.2" y="597.9" textLength="139.1" lengthAdjust="spacingAndGlyphs">learn_commandscript</text>
<text x="546.2" y="612.6" textLength="156.1" lengthAdjust="spacingAndGlyphs">::HandleLearnCommand</text>
<rect x="1379.6" y="589.2" width="223.4" height="25.6" fill="#ffffff" stroke="#000000" stroke-width="1.3"/>
<text x="1391.3" y="605.5" textLength="200.7" lengthAdjust="spacingAndGlyphs">ChatHandler::SendSysMessage</text>
<rect x="1691.6" y="581.9" width="142.9" height="40.3" fill="#ffffff" stroke="#ff0000" stroke-width="1.3"/>
<text x="1703.3" y="598.2" textLength="120.2" lengthAdjust="spacingAndGlyphs">WorldPackets::Chat</text>
<text x="1724" y="612.9" textLength="78.9" lengthAdjust="spacingAndGlyphs">::Chat::Write</text>
<rect x="1933.7" y="581.4" width="178.8" height="24.9" fill="#ffffff" stroke="#000000" stroke-width="1.3"/>
<text x="1945.4" y="597" textLength="156.1" lengthAdjust="spacingAndGlyphs">WorldPacket::GetOpcode</text>
<rect x="1650.6" y="647.7" width="225.5" height="25.3" fill="#ffffff" stroke="#000000" stroke-width="1.3"/>
<text x="1662.3" y="663.7" textLength="202.8" lengthAdjust="spacingAndGlyphs">ChatHandler::LineFromMessage</text>
<rect x="214.5" y="656.6" width="238.8" height="39.7" fill="#ffffff" stroke="#000000" stroke-width="1.3"/>
<text x="226.2" y="672.3" textLength="137.5" lengthAdjust="spacingAndGlyphs">learn_commandscript</text>
<text x="226.2" y="687" textLength="216.1" lengthAdjust="spacingAndGlyphs">::HandleLearnAllDefaultCommand</text>
<rect x="822.9" y="663.9" width="197.6" height="25.5" fill="#ffffff" stroke="#000000" stroke-width="1.3"/>
<text x="834.7" y="680.1" textLength="174.9" lengthAdjust="spacingAndGlyphs">ChatHandler::GetNameLink</text>
<rect x="828.2" y="715.7" width="187" height="39.5" fill="#ffffff" stroke="#000000" stroke-width="1.3"/>
<text x="840" y="731.2" textLength="164.3" lengthAdjust="spacingAndGlyphs">ChatHandler::getSelected</text>
<text x="882.5" y="745.9" textLength="79.2" lengthAdjust="spacingAndGlyphs">PlayerOrSelf</text>
<rect x="1691.6" y="699.5" width="142.9" height="39.8" fill="#ffffff" stroke="#000000" stroke-width="1.3"/>
<text x="1703.3" y="715.3" textLength="120.2" lengthAdjust="spacingAndGlyphs">WorldPackets::Chat</text>
<text x="1714.5" y="730" textLength="98" lengthAdjust="spacingAndGlyphs">::Chat::Initialize</text>
<rect x="1934.5" y="706.5" width="177.5" height="25.5" fill="#ffffff" stroke="#000000" stroke-width="1.3"/>
<text x="1946.2" y="722.7" textLength="154.8" lengthAdjust="spacingAndGlyphs">GetVirtualRealmAddress</text>
<rect x="229.3" y="824" width="209.2" height="54.3" fill="#ffffff" stroke="#000000" stroke-width="1.3"/>
<text x="241" y="839.6" textLength="136.8" lengthAdjust="spacingAndGlyphs">learn_commandscript</text>
<text x="241" y="854.3" textLength="186.5" lengthAdjust="spacingAndGlyphs">::HandleLearnAllMyPetTalents</text>
<text x="301.6" y="869" textLength="65.4" lengthAdjust="spacingAndGlyphs">Command</text>
<rect x="526.6" y="832.5" width="194.7" height="39.8" fill="#ffffff" stroke="#000000" stroke-width="1.3"/>
<text x="538.4" y="848.3" textLength="172" lengthAdjust="spacingAndGlyphs">ChatHandler::extractPlayer</text>
<text x="604.5" y="863" textLength="39.8" lengthAdjust="spacingAndGlyphs">Target</text>
<rect x="825" y="832.3" width="193.8" height="40.2" fill="#ffffff" stroke="#ff0000" stroke-width="1.3"/>
<text x="836.8" y="848.5" textLength="171.1" lengthAdjust="spacingAndGlyphs">ObjectAccessor::FindPlayer</text>
<text x="895.3" y="863.2" textLength="54.1" lengthAdjust="spacingAndGlyphs">ByName</text>
<rect x="2170.6" y="871.7" width="150.6" height="25.5" fill="#ffffff" stroke="#000000" stroke-width="1.3"/>
<text x="2182.3" y="887.9" textLength="127.9" lengthAdjust="spacingAndGlyphs">ObjectGuid::IsEmpty</text>
<rect x="825" y="898" width="193.8" height="40.2" fill="#ffffff" stroke="#000000" stroke-width="1.3"/>
<text x="836.8" y="914.2" textLength="171.1" lengthAdjust="spacingAndGlyphs">ChatHandler::SetSentError</text>
<text x="893.8" y="928.9" textLength="57" lengthAdjust="spacingAndGlyphs">Message</text>
<rect x="1103" y="924.3" width="223.4" height="40.5" fill="#ffffff" stroke="#ff0000" stroke-width="1.3"/>
<text x="1114.8" y="940.8" textLength="200.7" lengthAdjust="spacingAndGlyphs">ObjectAccessor::FindConnected</text>
<text x="1195" y="955.5" textLength="40.2" lengthAdjust="spacingAndGlyphs">Player</text>
<rect x="799" y="963.8" width="245.8" height="25.2" fill="#ffffff" stroke="#ff0000" stroke-width="1.3"/>
<text x="810.8" y="979.7" textLength="223.1" lengthAdjust="spacingAndGlyphs">ObjectMgr::GetPlayerGUIDByName</text>
<rect x="525.8" y="1015.5" width="196.2" height="39.8" fill="#ffffff" stroke="#000000" stroke-width="1.3"/>
<text x="537.5" y="1031.3" textLength="139.1" lengthAdjust="spacingAndGlyphs">learn_commandscript</text>
<text x="537.5" y="1046" textLength="173.5" lengthAdjust="spacingAndGlyphs">::HandleUnLearnCommand</text>
<rect x="828" y="1015.3" width="187.5" height="39.9" fill="#ffffff" stroke="#000000" stroke-width="1.3"/>
<text x="839.8" y="1031.2" textLength="164.8" lengthAdjust="spacingAndGlyphs">ChatHandler::getSelected</text>
<text x="902" y="1045.9" textLength="40.3" lengthAdjust="spacingAndGlyphs">Player</text>
<rect x="824.2" y="1080.5" width="195.1" height="40.5" fill="#ffffff" stroke="#ff0000" stroke-width="1.3"/>
<text x="836" y="1097" textLength="172.4" lengthAdjust="spacingAndGlyphs">ChatHandler::extractPlayer</text>
<text x="874.6" y="1111.7" textLength="95.2" lengthAdjust="spacingAndGlyphs">NameFromLink</text>
<rect x="1097.2" y="1087.6" width="235" height="25.8" fill="#ffffff" stroke="#ff0000" stroke-width="1.3"/>
<text x="1109" y="1104.1" textLength="212.3" lengthAdjust="spacingAndGlyphs">ChatHandler::extractKeyFromLink</text>
<rect x="828" y="1145.7" width="187.5" height="40.2" fill="#ffffff" stroke="#000000" stroke-width="1.3"/>
<text x="839.8" y="1161.9" textLength="164.8" lengthAdjust="spacingAndGlyphs">ChatHandler::extractSpell</text>
<text x="887.1" y="1176.6" textLength="70.1" lengthAdjust="spacingAndGlyphs">IdFromLink</text>
<rect x="1186.9" y="1153" width="55.6" height="25.6" fill="#ffffff" stroke="#000000" stroke-width="1.3"/>
<text x="1198.7" y="1169.3" textLength="32.9" lengthAdjust="spacingAndGlyphs">atoul</text>
<rect x="806.5" y="1313.2" width="230.9" height="25.3" fill="#ffffff" stroke="#000000" stroke-width="1.3"/>
<text x="818.2" y="1329.2" textLength="208.2" lengthAdjust="spacingAndGlyphs">ChatHandler::PSendSysMessage</text>
<rect x="1139.3" y="1313.2" width="150" height="25.3" fill="#ffffff" stroke="#ff0000" stroke-width="1.3"/>
<text x="1151" y="1329.2" textLength="127.3" lengthAdjust="spacingAndGlyphs">Trinity::StringFormat</text>
<rect x="503.4" y="1331" width="241.3" height="40.3" fill="#ffffff" stroke="#000000" stroke-width="1.3"/>
<text x="515.1" y="1347.3" textLength="137.4" lengthAdjust="spacingAndGlyphs">learn_commandscript</text>
<text x="515.1" y="1362" textLength="218.6" lengthAdjust="spacingAndGlyphs">::HandleLearnAllRecipesCommand</text>
<rect x="1165" y="1439.7" width="99" height="25.7" fill="#ffffff" stroke="#000000" stroke-width="1.3"/>
<text x="1176.8" y="1456.1" textLength="76.3" lengthAdjust="spacingAndGlyphs">wstrToLower</text>
<rect x="1436.4" y="1439.7" width="109.5" height="25.7" fill="#ffffff" stroke="#000000" stroke-width="1.3"/>
<text x="1448.2" y="1456.1" textLength="86.8" lengthAdjust="spacingAndGlyphs">wcharToLower</text>
<rect x="883.8" y="1465.4" width="75.9" height="24.9" fill="#ffffff" stroke="#000000" stroke-width="1.3"/>
<text x="895.5" y="1481" textLength="53.2" lengthAdjust="spacingAndGlyphs">Utf8FitTo</text>
<rect x="1168.3" y="1508.8" width="92.1" height="25.6" fill="#ffffff" stroke="#000000" stroke-width="1.3"/>
<text x="1180" y="1525.1" textLength="69.4" lengthAdjust="spacingAndGlyphs">Utf8toWStr</text>
<rect x="1436.4" y="1502.6" width="109.5" height="25.7" fill="#ffffff" stroke="#ff0000" stroke-width="1.3"/>
<text x="1448.2" y="1519" textLength="86.8" lengthAdjust="spacingAndGlyphs">utf8::distance</text>
<rect x="1436.4" y="1553.2" width="109.5" height="25.3" fill="#ffffff" stroke="#ff0000" stroke-width="1.3"/>
<text x="1448.2" y="1569.2" textLength="86.8" lengthAdjust="spacingAndGlyphs">utf8::utf8to16</text>
</svg></body></html>
